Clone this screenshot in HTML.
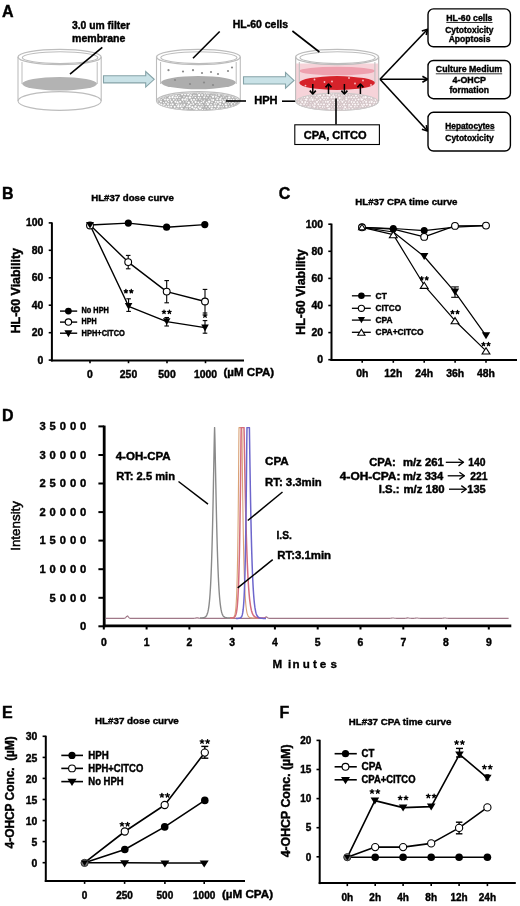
<!DOCTYPE html>
<html><head><meta charset="utf-8"><title>Figure</title>
<style>html,body{margin:0;padding:0;background:#fff;}body{width:520px;height:906px;overflow:hidden;}svg{display:block;will-change:transform;}text{stroke:#000;stroke-width:0.42px;}</style>
</head><body>
<svg width="520" height="906" viewBox="0 0 520 906" font-family="'Liberation Sans', sans-serif" font-weight="bold" fill="#000">
<rect width="520" height="906" fill="#fff"/>
<text x="2.0" y="17.0" font-size="16" >A</text>
<ellipse cx="59.6" cy="101" rx="41.6" ry="9.4" fill="#fff" stroke="#bdbdbd" stroke-width="1.1"/><line x1="18.0" y1="57.0" x2="18.0" y2="101.0" stroke="#bdbdbd" stroke-width="1.1" /><line x1="101.2" y1="57.0" x2="101.2" y2="101.0" stroke="#bdbdbd" stroke-width="1.1" />
<line x1="22.0" y1="62.0" x2="22.0" y2="84.0" stroke="#bdbdbd" stroke-width="1.0" /><line x1="97.2" y1="62.0" x2="97.2" y2="84.0" stroke="#bdbdbd" stroke-width="1.0" />
<ellipse cx="59.6" cy="83.8" rx="37.4" ry="6.8" fill="#b3b3b3"/>
<ellipse cx="59.6" cy="57" rx="41.6" ry="7.7" fill="none" stroke="#bdbdbd" stroke-width="1.3"/><ellipse cx="60.1" cy="57.6" rx="37.800000000000004" ry="5.9" fill="none" stroke="#bdbdbd" stroke-width="1.1"/>
<line x1="102.3" y1="47.4" x2="70.0" y2="74.2" stroke="#000" stroke-width="1.6" />
<text x="72.0" y="28.9" font-size="10.6" textLength="58" lengthAdjust="spacingAndGlyphs" >3.0 um filter</text>
<text x="72.0" y="41.6" font-size="10.8" textLength="53.4" lengthAdjust="spacingAndGlyphs" >membrane</text>
<polygon points="103.5,75.7 145.7,75.7 145.7,71.5 154.2,79.3 145.7,87.1 145.7,82.9 103.5,82.9" fill="#c9e2e7" stroke="#86a3a8" stroke-width="1.1" stroke-linejoin="miter"/>
<polygon points="243.5,76.8 285.5,76.8 285.5,72.6 294.0,80.4 285.5,88.2 285.5,84.0 243.5,84.0" fill="#c9e2e7" stroke="#86a3a8" stroke-width="1.1" stroke-linejoin="miter"/>
<ellipse cx="198.4" cy="101" rx="41.9" ry="9.4" fill="#fff" stroke="#bdbdbd" stroke-width="1.1"/><line x1="156.5" y1="57.0" x2="156.5" y2="101.0" stroke="#bdbdbd" stroke-width="1.1" /><line x1="240.3" y1="57.0" x2="240.3" y2="101.0" stroke="#bdbdbd" stroke-width="1.1" />
<clipPath id="pb2"><ellipse cx="198.4" cy="101.6" rx="41" ry="8.8"/></clipPath><ellipse cx="198.4" cy="101.6" rx="41" ry="8.8" fill="#b4b4b4"/><g clip-path="url(#pb2)"><circle cx="157.5" cy="92.6" r="1.07" fill="#ffffff" stroke="#9c9c9c" stroke-width="0.45"/><circle cx="160.5" cy="92.3" r="1.32" fill="#ffffff" stroke="#9c9c9c" stroke-width="0.45"/><circle cx="163.7" cy="92.5" r="0.91" fill="#ffffff" stroke="#9c9c9c" stroke-width="0.45"/><circle cx="166.9" cy="92.8" r="1.06" fill="#ffffff" stroke="#9c9c9c" stroke-width="0.45"/><circle cx="169.0" cy="93.0" r="1.49" fill="#ffffff" stroke="#9c9c9c" stroke-width="0.45"/><circle cx="172.1" cy="93.2" r="1.01" fill="#ffffff" stroke="#9c9c9c" stroke-width="0.45"/><circle cx="175.2" cy="93.0" r="1.27" fill="#ffffff" stroke="#9c9c9c" stroke-width="0.45"/><circle cx="178.1" cy="92.9" r="0.94" fill="#ffffff" stroke="#9c9c9c" stroke-width="0.45"/><circle cx="179.8" cy="93.2" r="1.11" fill="#ffffff" stroke="#9c9c9c" stroke-width="0.45"/><circle cx="183.9" cy="93.3" r="1.23" fill="#ffffff" stroke="#9c9c9c" stroke-width="0.45"/><circle cx="187.1" cy="92.7" r="1.40" fill="#ffffff" stroke="#9c9c9c" stroke-width="0.45"/><circle cx="189.2" cy="93.3" r="1.46" fill="#ffffff" stroke="#9c9c9c" stroke-width="0.45"/><circle cx="191.6" cy="92.4" r="1.52" fill="#ffffff" stroke="#9c9c9c" stroke-width="0.45"/><circle cx="195.8" cy="92.7" r="1.05" fill="#ffffff" stroke="#9c9c9c" stroke-width="0.45"/><circle cx="197.7" cy="92.8" r="1.34" fill="#ffffff" stroke="#9c9c9c" stroke-width="0.45"/><circle cx="200.7" cy="92.9" r="1.17" fill="#ffffff" stroke="#9c9c9c" stroke-width="0.45"/><circle cx="204.4" cy="93.0" r="1.31" fill="#ffffff" stroke="#9c9c9c" stroke-width="0.45"/><circle cx="207.3" cy="93.4" r="1.55" fill="#ffffff" stroke="#9c9c9c" stroke-width="0.45"/><circle cx="209.1" cy="93.2" r="1.37" fill="#ffffff" stroke="#9c9c9c" stroke-width="0.45"/><circle cx="213.1" cy="92.9" r="1.58" fill="#ffffff" stroke="#9c9c9c" stroke-width="0.45"/><circle cx="214.9" cy="93.2" r="1.40" fill="#ffffff" stroke="#9c9c9c" stroke-width="0.45"/><circle cx="218.0" cy="92.3" r="1.30" fill="#ffffff" stroke="#9c9c9c" stroke-width="0.45"/><circle cx="222.0" cy="92.3" r="1.50" fill="#ffffff" stroke="#9c9c9c" stroke-width="0.45"/><circle cx="224.0" cy="92.4" r="1.46" fill="#ffffff" stroke="#9c9c9c" stroke-width="0.45"/><circle cx="227.4" cy="93.2" r="1.11" fill="#ffffff" stroke="#9c9c9c" stroke-width="0.45"/><circle cx="230.1" cy="92.3" r="0.93" fill="#ffffff" stroke="#9c9c9c" stroke-width="0.45"/><circle cx="232.5" cy="93.3" r="1.40" fill="#ffffff" stroke="#9c9c9c" stroke-width="0.45"/><circle cx="235.7" cy="93.4" r="1.59" fill="#ffffff" stroke="#9c9c9c" stroke-width="0.45"/><circle cx="237.9" cy="92.9" r="1.12" fill="#ffffff" stroke="#9c9c9c" stroke-width="0.45"/><circle cx="158.4" cy="95.0" r="0.92" fill="#ffffff" stroke="#9c9c9c" stroke-width="0.45"/><circle cx="161.2" cy="94.6" r="1.33" fill="#ffffff" stroke="#9c9c9c" stroke-width="0.45"/><circle cx="164.4" cy="95.7" r="1.51" fill="#ffffff" stroke="#9c9c9c" stroke-width="0.45"/><circle cx="167.4" cy="95.1" r="1.53" fill="#ffffff" stroke="#9c9c9c" stroke-width="0.45"/><circle cx="170.7" cy="95.2" r="1.26" fill="#ffffff" stroke="#9c9c9c" stroke-width="0.45"/><circle cx="173.5" cy="95.6" r="1.29" fill="#ffffff" stroke="#9c9c9c" stroke-width="0.45"/><circle cx="176.1" cy="95.4" r="1.25" fill="#ffffff" stroke="#9c9c9c" stroke-width="0.45"/><circle cx="178.8" cy="95.7" r="1.07" fill="#ffffff" stroke="#9c9c9c" stroke-width="0.45"/><circle cx="182.1" cy="94.5" r="1.26" fill="#ffffff" stroke="#9c9c9c" stroke-width="0.45"/><circle cx="185.1" cy="94.5" r="1.19" fill="#ffffff" stroke="#9c9c9c" stroke-width="0.45"/><circle cx="188.1" cy="94.6" r="1.33" fill="#ffffff" stroke="#9c9c9c" stroke-width="0.45"/><circle cx="190.7" cy="95.3" r="1.34" fill="#ffffff" stroke="#9c9c9c" stroke-width="0.45"/><circle cx="194.0" cy="95.4" r="1.15" fill="#ffffff" stroke="#9c9c9c" stroke-width="0.45"/><circle cx="195.8" cy="95.3" r="0.92" fill="#ffffff" stroke="#9c9c9c" stroke-width="0.45"/><circle cx="199.1" cy="95.1" r="1.57" fill="#ffffff" stroke="#9c9c9c" stroke-width="0.45"/><circle cx="202.1" cy="95.0" r="1.31" fill="#ffffff" stroke="#9c9c9c" stroke-width="0.45"/><circle cx="205.0" cy="95.2" r="1.12" fill="#ffffff" stroke="#9c9c9c" stroke-width="0.45"/><circle cx="208.0" cy="95.4" r="1.11" fill="#ffffff" stroke="#9c9c9c" stroke-width="0.45"/><circle cx="211.2" cy="95.4" r="0.92" fill="#ffffff" stroke="#9c9c9c" stroke-width="0.45"/><circle cx="213.5" cy="95.5" r="1.12" fill="#ffffff" stroke="#9c9c9c" stroke-width="0.45"/><circle cx="216.3" cy="95.0" r="1.07" fill="#ffffff" stroke="#9c9c9c" stroke-width="0.45"/><circle cx="219.1" cy="94.9" r="1.39" fill="#ffffff" stroke="#9c9c9c" stroke-width="0.45"/><circle cx="223.2" cy="95.0" r="1.13" fill="#ffffff" stroke="#9c9c9c" stroke-width="0.45"/><circle cx="225.0" cy="94.9" r="1.50" fill="#ffffff" stroke="#9c9c9c" stroke-width="0.45"/><circle cx="229.1" cy="95.1" r="1.36" fill="#ffffff" stroke="#9c9c9c" stroke-width="0.45"/><circle cx="230.7" cy="95.2" r="1.06" fill="#ffffff" stroke="#9c9c9c" stroke-width="0.45"/><circle cx="234.7" cy="95.5" r="1.03" fill="#ffffff" stroke="#9c9c9c" stroke-width="0.45"/><circle cx="236.8" cy="95.5" r="1.03" fill="#ffffff" stroke="#9c9c9c" stroke-width="0.45"/><circle cx="240.5" cy="94.9" r="1.35" fill="#ffffff" stroke="#9c9c9c" stroke-width="0.45"/><circle cx="157.1" cy="97.8" r="0.99" fill="#ffffff" stroke="#9c9c9c" stroke-width="0.45"/><circle cx="160.1" cy="97.3" r="1.09" fill="#ffffff" stroke="#9c9c9c" stroke-width="0.45"/><circle cx="163.1" cy="97.9" r="1.19" fill="#ffffff" stroke="#9c9c9c" stroke-width="0.45"/><circle cx="165.3" cy="98.0" r="1.01" fill="#ffffff" stroke="#9c9c9c" stroke-width="0.45"/><circle cx="169.8" cy="97.4" r="1.52" fill="#ffffff" stroke="#9c9c9c" stroke-width="0.45"/><circle cx="172.6" cy="97.1" r="1.57" fill="#ffffff" stroke="#9c9c9c" stroke-width="0.45"/><circle cx="175.3" cy="97.6" r="1.42" fill="#ffffff" stroke="#9c9c9c" stroke-width="0.45"/><circle cx="177.4" cy="97.2" r="1.26" fill="#ffffff" stroke="#9c9c9c" stroke-width="0.45"/><circle cx="179.9" cy="97.5" r="1.06" fill="#ffffff" stroke="#9c9c9c" stroke-width="0.45"/><circle cx="184.0" cy="96.9" r="1.10" fill="#ffffff" stroke="#9c9c9c" stroke-width="0.45"/><circle cx="186.7" cy="97.9" r="1.53" fill="#ffffff" stroke="#9c9c9c" stroke-width="0.45"/><circle cx="189.9" cy="97.5" r="1.53" fill="#ffffff" stroke="#9c9c9c" stroke-width="0.45"/><circle cx="192.6" cy="97.0" r="0.91" fill="#ffffff" stroke="#9c9c9c" stroke-width="0.45"/><circle cx="195.4" cy="97.5" r="1.11" fill="#ffffff" stroke="#9c9c9c" stroke-width="0.45"/><circle cx="198.7" cy="97.6" r="1.19" fill="#ffffff" stroke="#9c9c9c" stroke-width="0.45"/><circle cx="200.5" cy="97.9" r="1.14" fill="#ffffff" stroke="#9c9c9c" stroke-width="0.45"/><circle cx="204.3" cy="97.3" r="1.23" fill="#ffffff" stroke="#9c9c9c" stroke-width="0.45"/><circle cx="206.8" cy="97.8" r="1.04" fill="#ffffff" stroke="#9c9c9c" stroke-width="0.45"/><circle cx="210.1" cy="97.9" r="1.02" fill="#ffffff" stroke="#9c9c9c" stroke-width="0.45"/><circle cx="213.0" cy="96.8" r="1.46" fill="#ffffff" stroke="#9c9c9c" stroke-width="0.45"/><circle cx="216.0" cy="96.9" r="1.34" fill="#ffffff" stroke="#9c9c9c" stroke-width="0.45"/><circle cx="217.9" cy="97.5" r="1.09" fill="#ffffff" stroke="#9c9c9c" stroke-width="0.45"/><circle cx="221.2" cy="97.8" r="1.20" fill="#ffffff" stroke="#9c9c9c" stroke-width="0.45"/><circle cx="223.4" cy="97.0" r="0.90" fill="#ffffff" stroke="#9c9c9c" stroke-width="0.45"/><circle cx="226.3" cy="98.0" r="0.99" fill="#ffffff" stroke="#9c9c9c" stroke-width="0.45"/><circle cx="229.2" cy="97.4" r="1.50" fill="#ffffff" stroke="#9c9c9c" stroke-width="0.45"/><circle cx="232.5" cy="97.3" r="1.12" fill="#ffffff" stroke="#9c9c9c" stroke-width="0.45"/><circle cx="235.8" cy="97.3" r="1.35" fill="#ffffff" stroke="#9c9c9c" stroke-width="0.45"/><circle cx="238.3" cy="97.0" r="1.03" fill="#ffffff" stroke="#9c9c9c" stroke-width="0.45"/><circle cx="159.2" cy="99.6" r="1.29" fill="#ffffff" stroke="#9c9c9c" stroke-width="0.45"/><circle cx="161.2" cy="99.6" r="0.96" fill="#ffffff" stroke="#9c9c9c" stroke-width="0.45"/><circle cx="165.1" cy="99.6" r="1.32" fill="#ffffff" stroke="#9c9c9c" stroke-width="0.45"/><circle cx="167.7" cy="99.7" r="1.46" fill="#ffffff" stroke="#9c9c9c" stroke-width="0.45"/><circle cx="170.4" cy="100.0" r="1.16" fill="#ffffff" stroke="#9c9c9c" stroke-width="0.45"/><circle cx="173.7" cy="99.7" r="1.19" fill="#ffffff" stroke="#9c9c9c" stroke-width="0.45"/><circle cx="176.3" cy="100.0" r="1.07" fill="#ffffff" stroke="#9c9c9c" stroke-width="0.45"/><circle cx="179.0" cy="99.7" r="0.95" fill="#ffffff" stroke="#9c9c9c" stroke-width="0.45"/><circle cx="182.7" cy="99.6" r="1.52" fill="#ffffff" stroke="#9c9c9c" stroke-width="0.45"/><circle cx="185.4" cy="99.5" r="1.53" fill="#ffffff" stroke="#9c9c9c" stroke-width="0.45"/><circle cx="187.2" cy="100.1" r="1.22" fill="#ffffff" stroke="#9c9c9c" stroke-width="0.45"/><circle cx="191.4" cy="100.1" r="1.36" fill="#ffffff" stroke="#9c9c9c" stroke-width="0.45"/><circle cx="194.0" cy="99.8" r="1.37" fill="#ffffff" stroke="#9c9c9c" stroke-width="0.45"/><circle cx="196.7" cy="99.2" r="0.97" fill="#ffffff" stroke="#9c9c9c" stroke-width="0.45"/><circle cx="199.9" cy="99.2" r="1.00" fill="#ffffff" stroke="#9c9c9c" stroke-width="0.45"/><circle cx="201.7" cy="100.2" r="0.96" fill="#ffffff" stroke="#9c9c9c" stroke-width="0.45"/><circle cx="204.5" cy="100.2" r="1.03" fill="#ffffff" stroke="#9c9c9c" stroke-width="0.45"/><circle cx="208.7" cy="100.0" r="0.98" fill="#ffffff" stroke="#9c9c9c" stroke-width="0.45"/><circle cx="211.8" cy="99.9" r="1.49" fill="#ffffff" stroke="#9c9c9c" stroke-width="0.45"/><circle cx="213.2" cy="100.1" r="1.46" fill="#ffffff" stroke="#9c9c9c" stroke-width="0.45"/><circle cx="217.2" cy="99.3" r="1.26" fill="#ffffff" stroke="#9c9c9c" stroke-width="0.45"/><circle cx="220.4" cy="99.2" r="1.42" fill="#ffffff" stroke="#9c9c9c" stroke-width="0.45"/><circle cx="222.8" cy="100.2" r="1.13" fill="#ffffff" stroke="#9c9c9c" stroke-width="0.45"/><circle cx="225.0" cy="99.5" r="1.07" fill="#ffffff" stroke="#9c9c9c" stroke-width="0.45"/><circle cx="228.9" cy="99.6" r="1.33" fill="#ffffff" stroke="#9c9c9c" stroke-width="0.45"/><circle cx="231.2" cy="99.6" r="1.16" fill="#ffffff" stroke="#9c9c9c" stroke-width="0.45"/><circle cx="233.6" cy="99.8" r="1.19" fill="#ffffff" stroke="#9c9c9c" stroke-width="0.45"/><circle cx="237.0" cy="100.1" r="1.58" fill="#ffffff" stroke="#9c9c9c" stroke-width="0.45"/><circle cx="240.4" cy="100.1" r="1.01" fill="#ffffff" stroke="#9c9c9c" stroke-width="0.45"/><circle cx="157.4" cy="102.1" r="1.37" fill="#ffffff" stroke="#9c9c9c" stroke-width="0.45"/><circle cx="160.9" cy="101.7" r="1.35" fill="#ffffff" stroke="#9c9c9c" stroke-width="0.45"/><circle cx="163.6" cy="102.6" r="0.97" fill="#ffffff" stroke="#9c9c9c" stroke-width="0.45"/><circle cx="166.0" cy="102.3" r="1.26" fill="#ffffff" stroke="#9c9c9c" stroke-width="0.45"/><circle cx="168.6" cy="101.7" r="1.03" fill="#ffffff" stroke="#9c9c9c" stroke-width="0.45"/><circle cx="171.6" cy="101.8" r="1.31" fill="#ffffff" stroke="#9c9c9c" stroke-width="0.45"/><circle cx="175.5" cy="101.8" r="1.38" fill="#ffffff" stroke="#9c9c9c" stroke-width="0.45"/><circle cx="177.6" cy="102.5" r="1.39" fill="#ffffff" stroke="#9c9c9c" stroke-width="0.45"/><circle cx="180.2" cy="101.7" r="1.31" fill="#ffffff" stroke="#9c9c9c" stroke-width="0.45"/><circle cx="183.5" cy="101.9" r="0.92" fill="#ffffff" stroke="#9c9c9c" stroke-width="0.45"/><circle cx="186.2" cy="101.9" r="1.02" fill="#ffffff" stroke="#9c9c9c" stroke-width="0.45"/><circle cx="188.7" cy="102.7" r="1.44" fill="#ffffff" stroke="#9c9c9c" stroke-width="0.45"/><circle cx="192.4" cy="102.0" r="1.24" fill="#ffffff" stroke="#9c9c9c" stroke-width="0.45"/><circle cx="195.6" cy="102.1" r="1.48" fill="#ffffff" stroke="#9c9c9c" stroke-width="0.45"/><circle cx="198.4" cy="102.5" r="1.24" fill="#ffffff" stroke="#9c9c9c" stroke-width="0.45"/><circle cx="201.3" cy="102.6" r="1.18" fill="#ffffff" stroke="#9c9c9c" stroke-width="0.45"/><circle cx="203.4" cy="101.8" r="1.23" fill="#ffffff" stroke="#9c9c9c" stroke-width="0.45"/><circle cx="207.0" cy="102.6" r="1.40" fill="#ffffff" stroke="#9c9c9c" stroke-width="0.45"/><circle cx="209.2" cy="101.7" r="1.50" fill="#ffffff" stroke="#9c9c9c" stroke-width="0.45"/><circle cx="212.0" cy="102.3" r="1.08" fill="#ffffff" stroke="#9c9c9c" stroke-width="0.45"/><circle cx="216.0" cy="101.8" r="1.50" fill="#ffffff" stroke="#9c9c9c" stroke-width="0.45"/><circle cx="218.0" cy="102.0" r="1.51" fill="#ffffff" stroke="#9c9c9c" stroke-width="0.45"/><circle cx="220.5" cy="101.6" r="1.41" fill="#ffffff" stroke="#9c9c9c" stroke-width="0.45"/><circle cx="223.8" cy="101.9" r="1.48" fill="#ffffff" stroke="#9c9c9c" stroke-width="0.45"/><circle cx="227.3" cy="101.5" r="1.31" fill="#ffffff" stroke="#9c9c9c" stroke-width="0.45"/><circle cx="229.8" cy="102.1" r="1.13" fill="#ffffff" stroke="#9c9c9c" stroke-width="0.45"/><circle cx="232.9" cy="102.6" r="1.05" fill="#ffffff" stroke="#9c9c9c" stroke-width="0.45"/><circle cx="235.8" cy="101.6" r="1.17" fill="#ffffff" stroke="#9c9c9c" stroke-width="0.45"/><circle cx="238.9" cy="101.6" r="1.09" fill="#ffffff" stroke="#9c9c9c" stroke-width="0.45"/><circle cx="159.5" cy="103.9" r="1.52" fill="#ffffff" stroke="#9c9c9c" stroke-width="0.45"/><circle cx="161.5" cy="104.7" r="1.56" fill="#ffffff" stroke="#9c9c9c" stroke-width="0.45"/><circle cx="164.3" cy="104.6" r="1.43" fill="#ffffff" stroke="#9c9c9c" stroke-width="0.45"/><circle cx="168.0" cy="104.1" r="1.36" fill="#ffffff" stroke="#9c9c9c" stroke-width="0.45"/><circle cx="171.2" cy="104.6" r="1.43" fill="#ffffff" stroke="#9c9c9c" stroke-width="0.45"/><circle cx="172.7" cy="104.4" r="1.28" fill="#ffffff" stroke="#9c9c9c" stroke-width="0.45"/><circle cx="176.6" cy="104.6" r="1.15" fill="#ffffff" stroke="#9c9c9c" stroke-width="0.45"/><circle cx="178.6" cy="104.6" r="1.30" fill="#ffffff" stroke="#9c9c9c" stroke-width="0.45"/><circle cx="181.5" cy="104.9" r="1.34" fill="#ffffff" stroke="#9c9c9c" stroke-width="0.45"/><circle cx="184.3" cy="104.9" r="1.36" fill="#ffffff" stroke="#9c9c9c" stroke-width="0.45"/><circle cx="187.6" cy="104.7" r="1.00" fill="#ffffff" stroke="#9c9c9c" stroke-width="0.45"/><circle cx="190.8" cy="104.6" r="1.32" fill="#ffffff" stroke="#9c9c9c" stroke-width="0.45"/><circle cx="193.3" cy="104.0" r="1.22" fill="#ffffff" stroke="#9c9c9c" stroke-width="0.45"/><circle cx="196.9" cy="104.7" r="0.95" fill="#ffffff" stroke="#9c9c9c" stroke-width="0.45"/><circle cx="199.8" cy="104.2" r="1.28" fill="#ffffff" stroke="#9c9c9c" stroke-width="0.45"/><circle cx="202.2" cy="104.8" r="1.09" fill="#ffffff" stroke="#9c9c9c" stroke-width="0.45"/><circle cx="205.3" cy="104.1" r="0.93" fill="#ffffff" stroke="#9c9c9c" stroke-width="0.45"/><circle cx="207.9" cy="104.2" r="1.44" fill="#ffffff" stroke="#9c9c9c" stroke-width="0.45"/><circle cx="211.1" cy="104.7" r="1.18" fill="#ffffff" stroke="#9c9c9c" stroke-width="0.45"/><circle cx="214.5" cy="103.9" r="1.15" fill="#ffffff" stroke="#9c9c9c" stroke-width="0.45"/><circle cx="216.2" cy="103.9" r="1.09" fill="#ffffff" stroke="#9c9c9c" stroke-width="0.45"/><circle cx="220.1" cy="104.0" r="1.45" fill="#ffffff" stroke="#9c9c9c" stroke-width="0.45"/><circle cx="222.5" cy="104.7" r="1.03" fill="#ffffff" stroke="#9c9c9c" stroke-width="0.45"/><circle cx="225.9" cy="104.5" r="1.47" fill="#ffffff" stroke="#9c9c9c" stroke-width="0.45"/><circle cx="228.3" cy="104.0" r="1.00" fill="#ffffff" stroke="#9c9c9c" stroke-width="0.45"/><circle cx="231.5" cy="104.0" r="1.27" fill="#ffffff" stroke="#9c9c9c" stroke-width="0.45"/><circle cx="234.7" cy="103.8" r="1.08" fill="#ffffff" stroke="#9c9c9c" stroke-width="0.45"/><circle cx="237.8" cy="104.9" r="1.46" fill="#ffffff" stroke="#9c9c9c" stroke-width="0.45"/><circle cx="240.1" cy="104.5" r="1.17" fill="#ffffff" stroke="#9c9c9c" stroke-width="0.45"/><circle cx="158.2" cy="106.9" r="1.34" fill="#ffffff" stroke="#9c9c9c" stroke-width="0.45"/><circle cx="160.9" cy="106.7" r="1.11" fill="#ffffff" stroke="#9c9c9c" stroke-width="0.45"/><circle cx="163.6" cy="106.1" r="1.32" fill="#ffffff" stroke="#9c9c9c" stroke-width="0.45"/><circle cx="166.4" cy="106.7" r="1.44" fill="#ffffff" stroke="#9c9c9c" stroke-width="0.45"/><circle cx="168.9" cy="106.4" r="1.27" fill="#ffffff" stroke="#9c9c9c" stroke-width="0.45"/><circle cx="171.2" cy="106.7" r="1.27" fill="#ffffff" stroke="#9c9c9c" stroke-width="0.45"/><circle cx="174.7" cy="106.8" r="1.35" fill="#ffffff" stroke="#9c9c9c" stroke-width="0.45"/><circle cx="178.3" cy="106.3" r="1.57" fill="#ffffff" stroke="#9c9c9c" stroke-width="0.45"/><circle cx="180.8" cy="106.2" r="1.45" fill="#ffffff" stroke="#9c9c9c" stroke-width="0.45"/><circle cx="183.1" cy="106.2" r="1.15" fill="#ffffff" stroke="#9c9c9c" stroke-width="0.45"/><circle cx="187.1" cy="106.5" r="1.28" fill="#ffffff" stroke="#9c9c9c" stroke-width="0.45"/><circle cx="189.6" cy="106.3" r="1.51" fill="#ffffff" stroke="#9c9c9c" stroke-width="0.45"/><circle cx="192.4" cy="107.2" r="1.50" fill="#ffffff" stroke="#9c9c9c" stroke-width="0.45"/><circle cx="195.5" cy="106.5" r="1.40" fill="#ffffff" stroke="#9c9c9c" stroke-width="0.45"/><circle cx="198.7" cy="107.2" r="1.46" fill="#ffffff" stroke="#9c9c9c" stroke-width="0.45"/><circle cx="201.3" cy="106.7" r="1.21" fill="#ffffff" stroke="#9c9c9c" stroke-width="0.45"/><circle cx="203.1" cy="106.2" r="0.98" fill="#ffffff" stroke="#9c9c9c" stroke-width="0.45"/><circle cx="206.2" cy="106.7" r="1.04" fill="#ffffff" stroke="#9c9c9c" stroke-width="0.45"/><circle cx="209.7" cy="106.6" r="1.39" fill="#ffffff" stroke="#9c9c9c" stroke-width="0.45"/><circle cx="212.2" cy="106.7" r="1.35" fill="#ffffff" stroke="#9c9c9c" stroke-width="0.45"/><circle cx="215.2" cy="106.3" r="1.43" fill="#ffffff" stroke="#9c9c9c" stroke-width="0.45"/><circle cx="218.7" cy="106.6" r="1.53" fill="#ffffff" stroke="#9c9c9c" stroke-width="0.45"/><circle cx="221.2" cy="106.8" r="1.16" fill="#ffffff" stroke="#9c9c9c" stroke-width="0.45"/><circle cx="223.3" cy="106.4" r="1.06" fill="#ffffff" stroke="#9c9c9c" stroke-width="0.45"/><circle cx="226.4" cy="106.7" r="1.45" fill="#ffffff" stroke="#9c9c9c" stroke-width="0.45"/><circle cx="229.4" cy="106.3" r="1.04" fill="#ffffff" stroke="#9c9c9c" stroke-width="0.45"/><circle cx="232.3" cy="106.2" r="1.18" fill="#ffffff" stroke="#9c9c9c" stroke-width="0.45"/><circle cx="235.2" cy="106.7" r="0.98" fill="#ffffff" stroke="#9c9c9c" stroke-width="0.45"/><circle cx="237.8" cy="106.7" r="0.94" fill="#ffffff" stroke="#9c9c9c" stroke-width="0.45"/><circle cx="159.2" cy="108.5" r="1.19" fill="#ffffff" stroke="#9c9c9c" stroke-width="0.45"/><circle cx="161.6" cy="108.5" r="1.18" fill="#ffffff" stroke="#9c9c9c" stroke-width="0.45"/><circle cx="164.2" cy="108.6" r="1.58" fill="#ffffff" stroke="#9c9c9c" stroke-width="0.45"/><circle cx="167.0" cy="109.2" r="1.23" fill="#ffffff" stroke="#9c9c9c" stroke-width="0.45"/><circle cx="169.8" cy="108.5" r="1.14" fill="#ffffff" stroke="#9c9c9c" stroke-width="0.45"/><circle cx="173.0" cy="109.4" r="1.41" fill="#ffffff" stroke="#9c9c9c" stroke-width="0.45"/><circle cx="176.9" cy="108.8" r="1.23" fill="#ffffff" stroke="#9c9c9c" stroke-width="0.45"/><circle cx="178.8" cy="109.4" r="1.07" fill="#ffffff" stroke="#9c9c9c" stroke-width="0.45"/><circle cx="181.8" cy="108.6" r="1.34" fill="#ffffff" stroke="#9c9c9c" stroke-width="0.45"/><circle cx="185.7" cy="109.2" r="1.38" fill="#ffffff" stroke="#9c9c9c" stroke-width="0.45"/><circle cx="187.1" cy="108.5" r="0.90" fill="#ffffff" stroke="#9c9c9c" stroke-width="0.45"/><circle cx="190.0" cy="108.5" r="1.02" fill="#ffffff" stroke="#9c9c9c" stroke-width="0.45"/><circle cx="194.3" cy="108.7" r="1.36" fill="#ffffff" stroke="#9c9c9c" stroke-width="0.45"/><circle cx="196.5" cy="109.4" r="1.58" fill="#ffffff" stroke="#9c9c9c" stroke-width="0.45"/><circle cx="200.2" cy="108.5" r="1.54" fill="#ffffff" stroke="#9c9c9c" stroke-width="0.45"/><circle cx="202.5" cy="109.6" r="1.11" fill="#ffffff" stroke="#9c9c9c" stroke-width="0.45"/><circle cx="204.9" cy="109.5" r="0.96" fill="#ffffff" stroke="#9c9c9c" stroke-width="0.45"/><circle cx="208.0" cy="108.8" r="0.98" fill="#ffffff" stroke="#9c9c9c" stroke-width="0.45"/><circle cx="211.7" cy="108.6" r="1.38" fill="#ffffff" stroke="#9c9c9c" stroke-width="0.45"/><circle cx="214.3" cy="109.4" r="1.42" fill="#ffffff" stroke="#9c9c9c" stroke-width="0.45"/><circle cx="217.5" cy="108.9" r="1.29" fill="#ffffff" stroke="#9c9c9c" stroke-width="0.45"/><circle cx="219.3" cy="109.4" r="1.19" fill="#ffffff" stroke="#9c9c9c" stroke-width="0.45"/><circle cx="222.3" cy="108.6" r="1.24" fill="#ffffff" stroke="#9c9c9c" stroke-width="0.45"/><circle cx="225.7" cy="109.3" r="1.40" fill="#ffffff" stroke="#9c9c9c" stroke-width="0.45"/><circle cx="228.4" cy="108.6" r="1.17" fill="#ffffff" stroke="#9c9c9c" stroke-width="0.45"/><circle cx="230.6" cy="109.0" r="1.40" fill="#ffffff" stroke="#9c9c9c" stroke-width="0.45"/><circle cx="234.5" cy="108.6" r="1.43" fill="#ffffff" stroke="#9c9c9c" stroke-width="0.45"/><circle cx="237.7" cy="109.2" r="1.07" fill="#ffffff" stroke="#9c9c9c" stroke-width="0.45"/><circle cx="240.6" cy="109.0" r="1.51" fill="#ffffff" stroke="#9c9c9c" stroke-width="0.45"/><circle cx="157.8" cy="111.2" r="1.53" fill="#ffffff" stroke="#9c9c9c" stroke-width="0.45"/><circle cx="159.6" cy="111.2" r="1.16" fill="#ffffff" stroke="#9c9c9c" stroke-width="0.45"/><circle cx="162.6" cy="111.4" r="1.57" fill="#ffffff" stroke="#9c9c9c" stroke-width="0.45"/><circle cx="165.4" cy="111.5" r="0.98" fill="#ffffff" stroke="#9c9c9c" stroke-width="0.45"/><circle cx="168.3" cy="110.9" r="1.07" fill="#ffffff" stroke="#9c9c9c" stroke-width="0.45"/><circle cx="172.0" cy="110.8" r="1.35" fill="#ffffff" stroke="#9c9c9c" stroke-width="0.45"/><circle cx="175.5" cy="111.0" r="1.06" fill="#ffffff" stroke="#9c9c9c" stroke-width="0.45"/><circle cx="177.6" cy="111.7" r="1.29" fill="#ffffff" stroke="#9c9c9c" stroke-width="0.45"/><circle cx="181.1" cy="111.4" r="1.32" fill="#ffffff" stroke="#9c9c9c" stroke-width="0.45"/><circle cx="183.0" cy="110.9" r="1.03" fill="#ffffff" stroke="#9c9c9c" stroke-width="0.45"/><circle cx="185.8" cy="110.8" r="1.48" fill="#ffffff" stroke="#9c9c9c" stroke-width="0.45"/><circle cx="188.8" cy="111.8" r="1.58" fill="#ffffff" stroke="#9c9c9c" stroke-width="0.45"/><circle cx="192.1" cy="111.0" r="0.96" fill="#ffffff" stroke="#9c9c9c" stroke-width="0.45"/><circle cx="195.3" cy="111.5" r="1.48" fill="#ffffff" stroke="#9c9c9c" stroke-width="0.45"/><circle cx="198.6" cy="111.2" r="1.43" fill="#ffffff" stroke="#9c9c9c" stroke-width="0.45"/><circle cx="200.8" cy="110.9" r="1.32" fill="#ffffff" stroke="#9c9c9c" stroke-width="0.45"/><circle cx="204.0" cy="111.7" r="1.48" fill="#ffffff" stroke="#9c9c9c" stroke-width="0.45"/><circle cx="206.8" cy="111.3" r="1.04" fill="#ffffff" stroke="#9c9c9c" stroke-width="0.45"/><circle cx="208.9" cy="111.2" r="1.41" fill="#ffffff" stroke="#9c9c9c" stroke-width="0.45"/><circle cx="211.8" cy="111.4" r="1.24" fill="#ffffff" stroke="#9c9c9c" stroke-width="0.45"/><circle cx="215.3" cy="111.5" r="1.41" fill="#ffffff" stroke="#9c9c9c" stroke-width="0.45"/><circle cx="217.8" cy="111.2" r="1.32" fill="#ffffff" stroke="#9c9c9c" stroke-width="0.45"/><circle cx="220.9" cy="111.3" r="1.60" fill="#ffffff" stroke="#9c9c9c" stroke-width="0.45"/><circle cx="223.6" cy="111.0" r="0.96" fill="#ffffff" stroke="#9c9c9c" stroke-width="0.45"/><circle cx="227.4" cy="111.8" r="1.55" fill="#ffffff" stroke="#9c9c9c" stroke-width="0.45"/><circle cx="230.1" cy="111.9" r="1.59" fill="#ffffff" stroke="#9c9c9c" stroke-width="0.45"/><circle cx="232.7" cy="111.9" r="1.28" fill="#ffffff" stroke="#9c9c9c" stroke-width="0.45"/><circle cx="236.4" cy="111.3" r="1.53" fill="#ffffff" stroke="#9c9c9c" stroke-width="0.45"/><circle cx="238.5" cy="112.0" r="1.44" fill="#ffffff" stroke="#9c9c9c" stroke-width="0.45"/></g><ellipse cx="198.4" cy="101.6" rx="41" ry="8.8" fill="none" stroke="#c8c8c8" stroke-width="0.8"/>
<line x1="160.6" y1="62.0" x2="160.6" y2="84.0" stroke="#bdbdbd" stroke-width="1.0" /><line x1="236.2" y1="62.0" x2="236.2" y2="84.0" stroke="#bdbdbd" stroke-width="1.0" />
<ellipse cx="198.4" cy="82.6" rx="37.4" ry="6.6" fill="#adadad"/>
<circle cx="168.5" cy="70.2" r="1.1" fill="#8a8a8a"/>
<circle cx="183" cy="71.5" r="1.1" fill="#8a8a8a"/>
<circle cx="193" cy="70.2" r="1.1" fill="#8a8a8a"/>
<circle cx="202" cy="73" r="1.1" fill="#8a8a8a"/>
<circle cx="211" cy="72" r="1.1" fill="#8a8a8a"/>
<circle cx="218" cy="74" r="1.1" fill="#8a8a8a"/>
<circle cx="228" cy="71" r="1.1" fill="#8a8a8a"/>
<circle cx="232" cy="67.5" r="1.1" fill="#8a8a8a"/>
<circle cx="175" cy="80" r="1.1" fill="#8a8a8a"/>
<circle cx="190" cy="84" r="1.1" fill="#8a8a8a"/>
<circle cx="204" cy="82.5" r="1.1" fill="#8a8a8a"/>
<circle cx="213" cy="85" r="1.1" fill="#8a8a8a"/>
<ellipse cx="198.4" cy="57" rx="41.9" ry="7.7" fill="none" stroke="#bdbdbd" stroke-width="1.3"/><ellipse cx="198.9" cy="57.6" rx="38.1" ry="5.9" fill="none" stroke="#bdbdbd" stroke-width="1.1"/>
<line x1="219.7" y1="31.5" x2="193.0" y2="58.2" stroke="#000" stroke-width="1.6" />
<text x="232.7" y="28.3" font-size="10.6" textLength="55.4" lengthAdjust="spacingAndGlyphs" >HL-60 cells</text>
<line x1="226.0" y1="101.0" x2="246.0" y2="101.0" stroke="#000" stroke-width="1.6" />
<line x1="282.0" y1="101.2" x2="301.0" y2="101.2" stroke="#000" stroke-width="1.6" />
<text x="254.2" y="104.4" font-size="10.8" textLength="23.4" lengthAdjust="spacingAndGlyphs" >HPH</text>
<ellipse cx="337.1" cy="101" rx="41.5" ry="9.4" fill="#fff" stroke="#bdbdbd" stroke-width="1.1"/><line x1="295.6" y1="57.0" x2="295.6" y2="101.0" stroke="#bdbdbd" stroke-width="1.1" /><line x1="378.6" y1="57.0" x2="378.6" y2="101.0" stroke="#bdbdbd" stroke-width="1.1" />
<path d="M295.6,63.5 L378.6,63.5 L378.6,101 A41.5,9.4 0 0 1 295.6,101 Z" fill="#f6d3d9"/>
<clipPath id="pb3"><ellipse cx="337.1" cy="101.6" rx="40.8" ry="8.6"/></clipPath><ellipse cx="337.1" cy="101.6" rx="40.8" ry="8.6" fill="#dccdd0"/><g clip-path="url(#pb3)"><circle cx="296.0" cy="93.5" r="1.54" fill="#fdf8f9" stroke="#c2b0b4" stroke-width="0.45"/><circle cx="298.6" cy="93.3" r="1.03" fill="#fdf8f9" stroke="#c2b0b4" stroke-width="0.45"/><circle cx="302.1" cy="93.2" r="1.11" fill="#fdf8f9" stroke="#c2b0b4" stroke-width="0.45"/><circle cx="305.4" cy="92.7" r="0.93" fill="#fdf8f9" stroke="#c2b0b4" stroke-width="0.45"/><circle cx="307.7" cy="93.3" r="1.20" fill="#fdf8f9" stroke="#c2b0b4" stroke-width="0.45"/><circle cx="310.5" cy="92.5" r="1.42" fill="#fdf8f9" stroke="#c2b0b4" stroke-width="0.45"/><circle cx="313.6" cy="92.5" r="1.11" fill="#fdf8f9" stroke="#c2b0b4" stroke-width="0.45"/><circle cx="317.0" cy="93.2" r="1.01" fill="#fdf8f9" stroke="#c2b0b4" stroke-width="0.45"/><circle cx="320.3" cy="93.5" r="1.58" fill="#fdf8f9" stroke="#c2b0b4" stroke-width="0.45"/><circle cx="321.9" cy="92.8" r="1.16" fill="#fdf8f9" stroke="#c2b0b4" stroke-width="0.45"/><circle cx="325.3" cy="93.1" r="1.22" fill="#fdf8f9" stroke="#c2b0b4" stroke-width="0.45"/><circle cx="328.8" cy="92.7" r="1.15" fill="#fdf8f9" stroke="#c2b0b4" stroke-width="0.45"/><circle cx="331.7" cy="93.4" r="1.22" fill="#fdf8f9" stroke="#c2b0b4" stroke-width="0.45"/><circle cx="333.6" cy="93.4" r="1.11" fill="#fdf8f9" stroke="#c2b0b4" stroke-width="0.45"/><circle cx="336.3" cy="93.0" r="0.91" fill="#fdf8f9" stroke="#c2b0b4" stroke-width="0.45"/><circle cx="339.3" cy="92.5" r="1.28" fill="#fdf8f9" stroke="#c2b0b4" stroke-width="0.45"/><circle cx="343.1" cy="93.0" r="1.04" fill="#fdf8f9" stroke="#c2b0b4" stroke-width="0.45"/><circle cx="346.1" cy="93.6" r="1.59" fill="#fdf8f9" stroke="#c2b0b4" stroke-width="0.45"/><circle cx="348.0" cy="92.4" r="0.92" fill="#fdf8f9" stroke="#c2b0b4" stroke-width="0.45"/><circle cx="351.1" cy="92.5" r="1.20" fill="#fdf8f9" stroke="#c2b0b4" stroke-width="0.45"/><circle cx="353.7" cy="92.8" r="1.28" fill="#fdf8f9" stroke="#c2b0b4" stroke-width="0.45"/><circle cx="357.7" cy="92.9" r="1.07" fill="#fdf8f9" stroke="#c2b0b4" stroke-width="0.45"/><circle cx="359.4" cy="92.9" r="1.08" fill="#fdf8f9" stroke="#c2b0b4" stroke-width="0.45"/><circle cx="363.3" cy="93.5" r="1.34" fill="#fdf8f9" stroke="#c2b0b4" stroke-width="0.45"/><circle cx="365.5" cy="92.6" r="1.47" fill="#fdf8f9" stroke="#c2b0b4" stroke-width="0.45"/><circle cx="369.3" cy="93.0" r="1.43" fill="#fdf8f9" stroke="#c2b0b4" stroke-width="0.45"/><circle cx="371.8" cy="92.7" r="1.48" fill="#fdf8f9" stroke="#c2b0b4" stroke-width="0.45"/><circle cx="373.8" cy="93.2" r="1.02" fill="#fdf8f9" stroke="#c2b0b4" stroke-width="0.45"/><circle cx="378.1" cy="93.0" r="1.53" fill="#fdf8f9" stroke="#c2b0b4" stroke-width="0.45"/><circle cx="298.4" cy="95.7" r="1.37" fill="#fdf8f9" stroke="#c2b0b4" stroke-width="0.45"/><circle cx="300.5" cy="95.3" r="1.32" fill="#fdf8f9" stroke="#c2b0b4" stroke-width="0.45"/><circle cx="303.0" cy="95.5" r="1.02" fill="#fdf8f9" stroke="#c2b0b4" stroke-width="0.45"/><circle cx="306.5" cy="95.2" r="1.59" fill="#fdf8f9" stroke="#c2b0b4" stroke-width="0.45"/><circle cx="309.3" cy="95.7" r="1.15" fill="#fdf8f9" stroke="#c2b0b4" stroke-width="0.45"/><circle cx="313.0" cy="94.9" r="1.22" fill="#fdf8f9" stroke="#c2b0b4" stroke-width="0.45"/><circle cx="315.2" cy="95.2" r="1.12" fill="#fdf8f9" stroke="#c2b0b4" stroke-width="0.45"/><circle cx="318.6" cy="95.8" r="1.50" fill="#fdf8f9" stroke="#c2b0b4" stroke-width="0.45"/><circle cx="320.2" cy="95.4" r="1.33" fill="#fdf8f9" stroke="#c2b0b4" stroke-width="0.45"/><circle cx="323.8" cy="95.1" r="1.28" fill="#fdf8f9" stroke="#c2b0b4" stroke-width="0.45"/><circle cx="327.4" cy="94.8" r="1.40" fill="#fdf8f9" stroke="#c2b0b4" stroke-width="0.45"/><circle cx="329.4" cy="95.3" r="1.37" fill="#fdf8f9" stroke="#c2b0b4" stroke-width="0.45"/><circle cx="333.3" cy="95.5" r="1.53" fill="#fdf8f9" stroke="#c2b0b4" stroke-width="0.45"/><circle cx="336.1" cy="94.9" r="1.04" fill="#fdf8f9" stroke="#c2b0b4" stroke-width="0.45"/><circle cx="338.9" cy="95.1" r="1.17" fill="#fdf8f9" stroke="#c2b0b4" stroke-width="0.45"/><circle cx="342.0" cy="95.9" r="1.09" fill="#fdf8f9" stroke="#c2b0b4" stroke-width="0.45"/><circle cx="344.0" cy="95.1" r="1.12" fill="#fdf8f9" stroke="#c2b0b4" stroke-width="0.45"/><circle cx="346.7" cy="95.9" r="0.99" fill="#fdf8f9" stroke="#c2b0b4" stroke-width="0.45"/><circle cx="349.5" cy="95.0" r="0.96" fill="#fdf8f9" stroke="#c2b0b4" stroke-width="0.45"/><circle cx="352.9" cy="95.6" r="0.96" fill="#fdf8f9" stroke="#c2b0b4" stroke-width="0.45"/><circle cx="356.0" cy="95.7" r="1.49" fill="#fdf8f9" stroke="#c2b0b4" stroke-width="0.45"/><circle cx="358.3" cy="95.9" r="0.90" fill="#fdf8f9" stroke="#c2b0b4" stroke-width="0.45"/><circle cx="361.2" cy="95.3" r="0.95" fill="#fdf8f9" stroke="#c2b0b4" stroke-width="0.45"/><circle cx="364.5" cy="94.8" r="1.09" fill="#fdf8f9" stroke="#c2b0b4" stroke-width="0.45"/><circle cx="368.1" cy="94.9" r="1.07" fill="#fdf8f9" stroke="#c2b0b4" stroke-width="0.45"/><circle cx="369.7" cy="95.9" r="1.53" fill="#fdf8f9" stroke="#c2b0b4" stroke-width="0.45"/><circle cx="373.4" cy="94.9" r="1.37" fill="#fdf8f9" stroke="#c2b0b4" stroke-width="0.45"/><circle cx="376.5" cy="94.9" r="0.94" fill="#fdf8f9" stroke="#c2b0b4" stroke-width="0.45"/><circle cx="379.5" cy="95.8" r="1.03" fill="#fdf8f9" stroke="#c2b0b4" stroke-width="0.45"/><circle cx="297.0" cy="97.7" r="0.93" fill="#fdf8f9" stroke="#c2b0b4" stroke-width="0.45"/><circle cx="298.6" cy="97.5" r="1.17" fill="#fdf8f9" stroke="#c2b0b4" stroke-width="0.45"/><circle cx="301.7" cy="97.2" r="1.59" fill="#fdf8f9" stroke="#c2b0b4" stroke-width="0.45"/><circle cx="304.4" cy="97.5" r="1.00" fill="#fdf8f9" stroke="#c2b0b4" stroke-width="0.45"/><circle cx="307.2" cy="97.3" r="1.54" fill="#fdf8f9" stroke="#c2b0b4" stroke-width="0.45"/><circle cx="311.6" cy="98.2" r="1.56" fill="#fdf8f9" stroke="#c2b0b4" stroke-width="0.45"/><circle cx="313.5" cy="98.2" r="1.07" fill="#fdf8f9" stroke="#c2b0b4" stroke-width="0.45"/><circle cx="316.9" cy="97.4" r="1.24" fill="#fdf8f9" stroke="#c2b0b4" stroke-width="0.45"/><circle cx="319.3" cy="97.9" r="0.91" fill="#fdf8f9" stroke="#c2b0b4" stroke-width="0.45"/><circle cx="322.5" cy="97.6" r="1.45" fill="#fdf8f9" stroke="#c2b0b4" stroke-width="0.45"/><circle cx="325.2" cy="97.7" r="1.28" fill="#fdf8f9" stroke="#c2b0b4" stroke-width="0.45"/><circle cx="327.7" cy="97.8" r="1.48" fill="#fdf8f9" stroke="#c2b0b4" stroke-width="0.45"/><circle cx="331.7" cy="97.3" r="1.55" fill="#fdf8f9" stroke="#c2b0b4" stroke-width="0.45"/><circle cx="334.5" cy="97.2" r="1.57" fill="#fdf8f9" stroke="#c2b0b4" stroke-width="0.45"/><circle cx="336.4" cy="97.1" r="1.09" fill="#fdf8f9" stroke="#c2b0b4" stroke-width="0.45"/><circle cx="339.7" cy="98.1" r="1.58" fill="#fdf8f9" stroke="#c2b0b4" stroke-width="0.45"/><circle cx="341.9" cy="98.1" r="0.98" fill="#fdf8f9" stroke="#c2b0b4" stroke-width="0.45"/><circle cx="346.4" cy="97.9" r="1.46" fill="#fdf8f9" stroke="#c2b0b4" stroke-width="0.45"/><circle cx="348.9" cy="97.2" r="1.27" fill="#fdf8f9" stroke="#c2b0b4" stroke-width="0.45"/><circle cx="351.3" cy="97.2" r="1.28" fill="#fdf8f9" stroke="#c2b0b4" stroke-width="0.45"/><circle cx="354.0" cy="97.6" r="1.32" fill="#fdf8f9" stroke="#c2b0b4" stroke-width="0.45"/><circle cx="356.9" cy="97.5" r="1.16" fill="#fdf8f9" stroke="#c2b0b4" stroke-width="0.45"/><circle cx="360.9" cy="98.2" r="1.32" fill="#fdf8f9" stroke="#c2b0b4" stroke-width="0.45"/><circle cx="363.5" cy="97.4" r="1.50" fill="#fdf8f9" stroke="#c2b0b4" stroke-width="0.45"/><circle cx="365.5" cy="97.2" r="1.58" fill="#fdf8f9" stroke="#c2b0b4" stroke-width="0.45"/><circle cx="369.2" cy="97.4" r="1.25" fill="#fdf8f9" stroke="#c2b0b4" stroke-width="0.45"/><circle cx="371.4" cy="98.2" r="1.35" fill="#fdf8f9" stroke="#c2b0b4" stroke-width="0.45"/><circle cx="374.6" cy="97.7" r="1.22" fill="#fdf8f9" stroke="#c2b0b4" stroke-width="0.45"/><circle cx="378.3" cy="97.7" r="1.51" fill="#fdf8f9" stroke="#c2b0b4" stroke-width="0.45"/><circle cx="297.9" cy="99.4" r="1.21" fill="#fdf8f9" stroke="#c2b0b4" stroke-width="0.45"/><circle cx="301.2" cy="100.3" r="1.20" fill="#fdf8f9" stroke="#c2b0b4" stroke-width="0.45"/><circle cx="304.1" cy="99.8" r="0.94" fill="#fdf8f9" stroke="#c2b0b4" stroke-width="0.45"/><circle cx="306.2" cy="99.6" r="1.59" fill="#fdf8f9" stroke="#c2b0b4" stroke-width="0.45"/><circle cx="310.0" cy="99.9" r="1.28" fill="#fdf8f9" stroke="#c2b0b4" stroke-width="0.45"/><circle cx="312.6" cy="99.8" r="1.51" fill="#fdf8f9" stroke="#c2b0b4" stroke-width="0.45"/><circle cx="315.2" cy="99.8" r="1.11" fill="#fdf8f9" stroke="#c2b0b4" stroke-width="0.45"/><circle cx="318.3" cy="100.4" r="1.16" fill="#fdf8f9" stroke="#c2b0b4" stroke-width="0.45"/><circle cx="320.4" cy="99.6" r="1.31" fill="#fdf8f9" stroke="#c2b0b4" stroke-width="0.45"/><circle cx="324.0" cy="99.5" r="1.16" fill="#fdf8f9" stroke="#c2b0b4" stroke-width="0.45"/><circle cx="326.5" cy="99.7" r="0.96" fill="#fdf8f9" stroke="#c2b0b4" stroke-width="0.45"/><circle cx="329.7" cy="100.5" r="0.92" fill="#fdf8f9" stroke="#c2b0b4" stroke-width="0.45"/><circle cx="332.9" cy="100.4" r="1.27" fill="#fdf8f9" stroke="#c2b0b4" stroke-width="0.45"/><circle cx="336.1" cy="99.9" r="1.49" fill="#fdf8f9" stroke="#c2b0b4" stroke-width="0.45"/><circle cx="337.7" cy="100.4" r="1.38" fill="#fdf8f9" stroke="#c2b0b4" stroke-width="0.45"/><circle cx="341.2" cy="100.4" r="1.16" fill="#fdf8f9" stroke="#c2b0b4" stroke-width="0.45"/><circle cx="343.7" cy="100.3" r="1.10" fill="#fdf8f9" stroke="#c2b0b4" stroke-width="0.45"/><circle cx="346.4" cy="99.4" r="1.32" fill="#fdf8f9" stroke="#c2b0b4" stroke-width="0.45"/><circle cx="349.2" cy="100.4" r="1.15" fill="#fdf8f9" stroke="#c2b0b4" stroke-width="0.45"/><circle cx="352.5" cy="99.8" r="1.03" fill="#fdf8f9" stroke="#c2b0b4" stroke-width="0.45"/><circle cx="355.6" cy="100.1" r="1.26" fill="#fdf8f9" stroke="#c2b0b4" stroke-width="0.45"/><circle cx="358.5" cy="99.5" r="1.36" fill="#fdf8f9" stroke="#c2b0b4" stroke-width="0.45"/><circle cx="361.9" cy="99.5" r="1.59" fill="#fdf8f9" stroke="#c2b0b4" stroke-width="0.45"/><circle cx="364.9" cy="100.6" r="1.21" fill="#fdf8f9" stroke="#c2b0b4" stroke-width="0.45"/><circle cx="366.6" cy="99.9" r="0.95" fill="#fdf8f9" stroke="#c2b0b4" stroke-width="0.45"/><circle cx="370.9" cy="100.4" r="1.20" fill="#fdf8f9" stroke="#c2b0b4" stroke-width="0.45"/><circle cx="373.0" cy="100.1" r="1.13" fill="#fdf8f9" stroke="#c2b0b4" stroke-width="0.45"/><circle cx="375.6" cy="99.8" r="1.52" fill="#fdf8f9" stroke="#c2b0b4" stroke-width="0.45"/><circle cx="379.2" cy="99.4" r="0.96" fill="#fdf8f9" stroke="#c2b0b4" stroke-width="0.45"/><circle cx="296.3" cy="102.4" r="1.55" fill="#fdf8f9" stroke="#c2b0b4" stroke-width="0.45"/><circle cx="298.8" cy="102.2" r="0.96" fill="#fdf8f9" stroke="#c2b0b4" stroke-width="0.45"/><circle cx="302.2" cy="102.0" r="1.50" fill="#fdf8f9" stroke="#c2b0b4" stroke-width="0.45"/><circle cx="305.3" cy="102.3" r="1.59" fill="#fdf8f9" stroke="#c2b0b4" stroke-width="0.45"/><circle cx="307.6" cy="102.8" r="1.04" fill="#fdf8f9" stroke="#c2b0b4" stroke-width="0.45"/><circle cx="310.9" cy="102.4" r="0.99" fill="#fdf8f9" stroke="#c2b0b4" stroke-width="0.45"/><circle cx="314.1" cy="102.8" r="1.15" fill="#fdf8f9" stroke="#c2b0b4" stroke-width="0.45"/><circle cx="317.0" cy="101.9" r="1.50" fill="#fdf8f9" stroke="#c2b0b4" stroke-width="0.45"/><circle cx="319.4" cy="102.1" r="0.94" fill="#fdf8f9" stroke="#c2b0b4" stroke-width="0.45"/><circle cx="323.0" cy="101.9" r="1.04" fill="#fdf8f9" stroke="#c2b0b4" stroke-width="0.45"/><circle cx="326.0" cy="101.8" r="1.48" fill="#fdf8f9" stroke="#c2b0b4" stroke-width="0.45"/><circle cx="328.0" cy="101.9" r="1.54" fill="#fdf8f9" stroke="#c2b0b4" stroke-width="0.45"/><circle cx="330.4" cy="102.3" r="1.03" fill="#fdf8f9" stroke="#c2b0b4" stroke-width="0.45"/><circle cx="334.6" cy="102.7" r="1.17" fill="#fdf8f9" stroke="#c2b0b4" stroke-width="0.45"/><circle cx="336.7" cy="102.1" r="0.94" fill="#fdf8f9" stroke="#c2b0b4" stroke-width="0.45"/><circle cx="339.4" cy="102.0" r="1.02" fill="#fdf8f9" stroke="#c2b0b4" stroke-width="0.45"/><circle cx="342.4" cy="101.8" r="1.39" fill="#fdf8f9" stroke="#c2b0b4" stroke-width="0.45"/><circle cx="345.5" cy="102.4" r="1.05" fill="#fdf8f9" stroke="#c2b0b4" stroke-width="0.45"/><circle cx="348.8" cy="101.9" r="1.07" fill="#fdf8f9" stroke="#c2b0b4" stroke-width="0.45"/><circle cx="351.6" cy="101.9" r="1.37" fill="#fdf8f9" stroke="#c2b0b4" stroke-width="0.45"/><circle cx="354.1" cy="102.3" r="1.43" fill="#fdf8f9" stroke="#c2b0b4" stroke-width="0.45"/><circle cx="357.4" cy="102.2" r="1.32" fill="#fdf8f9" stroke="#c2b0b4" stroke-width="0.45"/><circle cx="360.6" cy="102.7" r="0.94" fill="#fdf8f9" stroke="#c2b0b4" stroke-width="0.45"/><circle cx="363.1" cy="102.0" r="1.24" fill="#fdf8f9" stroke="#c2b0b4" stroke-width="0.45"/><circle cx="366.2" cy="101.9" r="1.53" fill="#fdf8f9" stroke="#c2b0b4" stroke-width="0.45"/><circle cx="369.6" cy="102.1" r="1.47" fill="#fdf8f9" stroke="#c2b0b4" stroke-width="0.45"/><circle cx="371.7" cy="101.9" r="1.60" fill="#fdf8f9" stroke="#c2b0b4" stroke-width="0.45"/><circle cx="374.3" cy="102.6" r="1.40" fill="#fdf8f9" stroke="#c2b0b4" stroke-width="0.45"/><circle cx="376.9" cy="102.3" r="1.31" fill="#fdf8f9" stroke="#c2b0b4" stroke-width="0.45"/><circle cx="297.7" cy="104.6" r="1.50" fill="#fdf8f9" stroke="#c2b0b4" stroke-width="0.45"/><circle cx="300.6" cy="104.6" r="1.50" fill="#fdf8f9" stroke="#c2b0b4" stroke-width="0.45"/><circle cx="304.1" cy="104.2" r="1.31" fill="#fdf8f9" stroke="#c2b0b4" stroke-width="0.45"/><circle cx="306.9" cy="104.7" r="0.97" fill="#fdf8f9" stroke="#c2b0b4" stroke-width="0.45"/><circle cx="310.0" cy="105.1" r="1.11" fill="#fdf8f9" stroke="#c2b0b4" stroke-width="0.45"/><circle cx="313.0" cy="105.0" r="1.28" fill="#fdf8f9" stroke="#c2b0b4" stroke-width="0.45"/><circle cx="314.8" cy="104.0" r="1.42" fill="#fdf8f9" stroke="#c2b0b4" stroke-width="0.45"/><circle cx="318.4" cy="104.4" r="1.38" fill="#fdf8f9" stroke="#c2b0b4" stroke-width="0.45"/><circle cx="321.1" cy="104.3" r="1.24" fill="#fdf8f9" stroke="#c2b0b4" stroke-width="0.45"/><circle cx="324.0" cy="104.5" r="1.39" fill="#fdf8f9" stroke="#c2b0b4" stroke-width="0.45"/><circle cx="326.8" cy="104.4" r="0.98" fill="#fdf8f9" stroke="#c2b0b4" stroke-width="0.45"/><circle cx="329.1" cy="104.5" r="1.41" fill="#fdf8f9" stroke="#c2b0b4" stroke-width="0.45"/><circle cx="332.4" cy="104.7" r="1.04" fill="#fdf8f9" stroke="#c2b0b4" stroke-width="0.45"/><circle cx="334.7" cy="104.6" r="0.97" fill="#fdf8f9" stroke="#c2b0b4" stroke-width="0.45"/><circle cx="338.4" cy="104.2" r="1.04" fill="#fdf8f9" stroke="#c2b0b4" stroke-width="0.45"/><circle cx="341.3" cy="105.1" r="0.97" fill="#fdf8f9" stroke="#c2b0b4" stroke-width="0.45"/><circle cx="344.2" cy="104.5" r="1.51" fill="#fdf8f9" stroke="#c2b0b4" stroke-width="0.45"/><circle cx="346.7" cy="104.4" r="0.95" fill="#fdf8f9" stroke="#c2b0b4" stroke-width="0.45"/><circle cx="349.3" cy="105.1" r="1.56" fill="#fdf8f9" stroke="#c2b0b4" stroke-width="0.45"/><circle cx="352.7" cy="104.3" r="1.23" fill="#fdf8f9" stroke="#c2b0b4" stroke-width="0.45"/><circle cx="355.2" cy="104.7" r="1.57" fill="#fdf8f9" stroke="#c2b0b4" stroke-width="0.45"/><circle cx="358.2" cy="104.3" r="1.26" fill="#fdf8f9" stroke="#c2b0b4" stroke-width="0.45"/><circle cx="362.0" cy="104.9" r="1.59" fill="#fdf8f9" stroke="#c2b0b4" stroke-width="0.45"/><circle cx="363.8" cy="104.8" r="1.53" fill="#fdf8f9" stroke="#c2b0b4" stroke-width="0.45"/><circle cx="366.9" cy="104.5" r="1.43" fill="#fdf8f9" stroke="#c2b0b4" stroke-width="0.45"/><circle cx="370.0" cy="104.9" r="1.58" fill="#fdf8f9" stroke="#c2b0b4" stroke-width="0.45"/><circle cx="373.4" cy="104.3" r="1.02" fill="#fdf8f9" stroke="#c2b0b4" stroke-width="0.45"/><circle cx="375.8" cy="105.0" r="1.26" fill="#fdf8f9" stroke="#c2b0b4" stroke-width="0.45"/><circle cx="379.0" cy="104.8" r="1.42" fill="#fdf8f9" stroke="#c2b0b4" stroke-width="0.45"/><circle cx="296.8" cy="106.6" r="1.20" fill="#fdf8f9" stroke="#c2b0b4" stroke-width="0.45"/><circle cx="299.3" cy="106.8" r="1.28" fill="#fdf8f9" stroke="#c2b0b4" stroke-width="0.45"/><circle cx="301.6" cy="107.1" r="0.93" fill="#fdf8f9" stroke="#c2b0b4" stroke-width="0.45"/><circle cx="305.4" cy="106.9" r="1.05" fill="#fdf8f9" stroke="#c2b0b4" stroke-width="0.45"/><circle cx="308.5" cy="107.2" r="1.57" fill="#fdf8f9" stroke="#c2b0b4" stroke-width="0.45"/><circle cx="310.1" cy="107.0" r="1.16" fill="#fdf8f9" stroke="#c2b0b4" stroke-width="0.45"/><circle cx="314.4" cy="106.6" r="1.42" fill="#fdf8f9" stroke="#c2b0b4" stroke-width="0.45"/><circle cx="317.4" cy="107.2" r="1.01" fill="#fdf8f9" stroke="#c2b0b4" stroke-width="0.45"/><circle cx="319.9" cy="106.5" r="1.24" fill="#fdf8f9" stroke="#c2b0b4" stroke-width="0.45"/><circle cx="322.7" cy="107.0" r="1.28" fill="#fdf8f9" stroke="#c2b0b4" stroke-width="0.45"/><circle cx="324.7" cy="107.1" r="1.01" fill="#fdf8f9" stroke="#c2b0b4" stroke-width="0.45"/><circle cx="327.6" cy="106.3" r="1.52" fill="#fdf8f9" stroke="#c2b0b4" stroke-width="0.45"/><circle cx="331.6" cy="106.8" r="0.96" fill="#fdf8f9" stroke="#c2b0b4" stroke-width="0.45"/><circle cx="334.8" cy="107.1" r="1.22" fill="#fdf8f9" stroke="#c2b0b4" stroke-width="0.45"/><circle cx="337.2" cy="106.3" r="1.08" fill="#fdf8f9" stroke="#c2b0b4" stroke-width="0.45"/><circle cx="340.1" cy="106.5" r="1.10" fill="#fdf8f9" stroke="#c2b0b4" stroke-width="0.45"/><circle cx="342.7" cy="106.7" r="0.92" fill="#fdf8f9" stroke="#c2b0b4" stroke-width="0.45"/><circle cx="345.0" cy="107.3" r="1.58" fill="#fdf8f9" stroke="#c2b0b4" stroke-width="0.45"/><circle cx="349.0" cy="106.9" r="1.17" fill="#fdf8f9" stroke="#c2b0b4" stroke-width="0.45"/><circle cx="351.1" cy="106.6" r="1.37" fill="#fdf8f9" stroke="#c2b0b4" stroke-width="0.45"/><circle cx="354.8" cy="106.7" r="1.22" fill="#fdf8f9" stroke="#c2b0b4" stroke-width="0.45"/><circle cx="357.1" cy="106.4" r="1.06" fill="#fdf8f9" stroke="#c2b0b4" stroke-width="0.45"/><circle cx="360.2" cy="107.0" r="1.12" fill="#fdf8f9" stroke="#c2b0b4" stroke-width="0.45"/><circle cx="362.7" cy="106.3" r="1.32" fill="#fdf8f9" stroke="#c2b0b4" stroke-width="0.45"/><circle cx="365.6" cy="106.6" r="0.92" fill="#fdf8f9" stroke="#c2b0b4" stroke-width="0.45"/><circle cx="368.4" cy="107.2" r="1.30" fill="#fdf8f9" stroke="#c2b0b4" stroke-width="0.45"/><circle cx="372.0" cy="107.2" r="1.32" fill="#fdf8f9" stroke="#c2b0b4" stroke-width="0.45"/><circle cx="374.5" cy="106.7" r="1.27" fill="#fdf8f9" stroke="#c2b0b4" stroke-width="0.45"/><circle cx="378.0" cy="106.9" r="0.94" fill="#fdf8f9" stroke="#c2b0b4" stroke-width="0.45"/><circle cx="298.4" cy="109.3" r="0.97" fill="#fdf8f9" stroke="#c2b0b4" stroke-width="0.45"/><circle cx="300.6" cy="108.8" r="1.34" fill="#fdf8f9" stroke="#c2b0b4" stroke-width="0.45"/><circle cx="303.0" cy="109.1" r="1.60" fill="#fdf8f9" stroke="#c2b0b4" stroke-width="0.45"/><circle cx="305.8" cy="109.2" r="1.60" fill="#fdf8f9" stroke="#c2b0b4" stroke-width="0.45"/><circle cx="308.9" cy="109.7" r="1.24" fill="#fdf8f9" stroke="#c2b0b4" stroke-width="0.45"/><circle cx="311.5" cy="109.2" r="1.19" fill="#fdf8f9" stroke="#c2b0b4" stroke-width="0.45"/><circle cx="315.5" cy="109.7" r="0.90" fill="#fdf8f9" stroke="#c2b0b4" stroke-width="0.45"/><circle cx="317.3" cy="109.5" r="1.53" fill="#fdf8f9" stroke="#c2b0b4" stroke-width="0.45"/><circle cx="320.9" cy="109.0" r="1.11" fill="#fdf8f9" stroke="#c2b0b4" stroke-width="0.45"/><circle cx="323.3" cy="109.4" r="1.11" fill="#fdf8f9" stroke="#c2b0b4" stroke-width="0.45"/><circle cx="327.5" cy="108.7" r="0.96" fill="#fdf8f9" stroke="#c2b0b4" stroke-width="0.45"/><circle cx="329.2" cy="108.7" r="1.57" fill="#fdf8f9" stroke="#c2b0b4" stroke-width="0.45"/><circle cx="332.6" cy="109.6" r="1.42" fill="#fdf8f9" stroke="#c2b0b4" stroke-width="0.45"/><circle cx="335.7" cy="108.7" r="1.26" fill="#fdf8f9" stroke="#c2b0b4" stroke-width="0.45"/><circle cx="338.4" cy="109.8" r="1.37" fill="#fdf8f9" stroke="#c2b0b4" stroke-width="0.45"/><circle cx="340.6" cy="109.5" r="0.90" fill="#fdf8f9" stroke="#c2b0b4" stroke-width="0.45"/><circle cx="344.0" cy="109.5" r="1.55" fill="#fdf8f9" stroke="#c2b0b4" stroke-width="0.45"/><circle cx="346.9" cy="109.2" r="1.29" fill="#fdf8f9" stroke="#c2b0b4" stroke-width="0.45"/><circle cx="349.2" cy="109.0" r="1.32" fill="#fdf8f9" stroke="#c2b0b4" stroke-width="0.45"/><circle cx="352.5" cy="109.2" r="1.42" fill="#fdf8f9" stroke="#c2b0b4" stroke-width="0.45"/><circle cx="355.5" cy="109.4" r="1.08" fill="#fdf8f9" stroke="#c2b0b4" stroke-width="0.45"/><circle cx="359.4" cy="109.2" r="1.42" fill="#fdf8f9" stroke="#c2b0b4" stroke-width="0.45"/><circle cx="361.3" cy="108.7" r="1.04" fill="#fdf8f9" stroke="#c2b0b4" stroke-width="0.45"/><circle cx="364.6" cy="109.4" r="1.07" fill="#fdf8f9" stroke="#c2b0b4" stroke-width="0.45"/><circle cx="366.8" cy="108.8" r="1.07" fill="#fdf8f9" stroke="#c2b0b4" stroke-width="0.45"/><circle cx="370.3" cy="108.9" r="1.03" fill="#fdf8f9" stroke="#c2b0b4" stroke-width="0.45"/><circle cx="373.3" cy="109.0" r="1.52" fill="#fdf8f9" stroke="#c2b0b4" stroke-width="0.45"/><circle cx="375.3" cy="109.5" r="1.20" fill="#fdf8f9" stroke="#c2b0b4" stroke-width="0.45"/><circle cx="378.7" cy="109.5" r="1.43" fill="#fdf8f9" stroke="#c2b0b4" stroke-width="0.45"/><circle cx="295.9" cy="111.2" r="1.09" fill="#fdf8f9" stroke="#c2b0b4" stroke-width="0.45"/><circle cx="299.4" cy="111.7" r="1.04" fill="#fdf8f9" stroke="#c2b0b4" stroke-width="0.45"/><circle cx="301.5" cy="111.9" r="1.41" fill="#fdf8f9" stroke="#c2b0b4" stroke-width="0.45"/><circle cx="304.8" cy="111.6" r="1.23" fill="#fdf8f9" stroke="#c2b0b4" stroke-width="0.45"/><circle cx="307.4" cy="111.4" r="1.20" fill="#fdf8f9" stroke="#c2b0b4" stroke-width="0.45"/><circle cx="311.1" cy="112.1" r="1.35" fill="#fdf8f9" stroke="#c2b0b4" stroke-width="0.45"/><circle cx="314.3" cy="111.9" r="1.04" fill="#fdf8f9" stroke="#c2b0b4" stroke-width="0.45"/><circle cx="317.4" cy="111.1" r="1.40" fill="#fdf8f9" stroke="#c2b0b4" stroke-width="0.45"/><circle cx="320.1" cy="111.1" r="1.44" fill="#fdf8f9" stroke="#c2b0b4" stroke-width="0.45"/><circle cx="323.1" cy="111.3" r="1.32" fill="#fdf8f9" stroke="#c2b0b4" stroke-width="0.45"/><circle cx="326.0" cy="111.5" r="1.50" fill="#fdf8f9" stroke="#c2b0b4" stroke-width="0.45"/><circle cx="327.7" cy="112.0" r="1.00" fill="#fdf8f9" stroke="#c2b0b4" stroke-width="0.45"/><circle cx="330.8" cy="111.5" r="1.20" fill="#fdf8f9" stroke="#c2b0b4" stroke-width="0.45"/><circle cx="333.6" cy="111.0" r="1.55" fill="#fdf8f9" stroke="#c2b0b4" stroke-width="0.45"/><circle cx="336.6" cy="111.4" r="1.56" fill="#fdf8f9" stroke="#c2b0b4" stroke-width="0.45"/><circle cx="339.5" cy="111.1" r="1.58" fill="#fdf8f9" stroke="#c2b0b4" stroke-width="0.45"/><circle cx="342.3" cy="111.2" r="1.52" fill="#fdf8f9" stroke="#c2b0b4" stroke-width="0.45"/><circle cx="345.2" cy="112.0" r="1.56" fill="#fdf8f9" stroke="#c2b0b4" stroke-width="0.45"/><circle cx="348.2" cy="111.2" r="1.13" fill="#fdf8f9" stroke="#c2b0b4" stroke-width="0.45"/><circle cx="351.5" cy="111.4" r="1.28" fill="#fdf8f9" stroke="#c2b0b4" stroke-width="0.45"/><circle cx="354.0" cy="112.0" r="1.26" fill="#fdf8f9" stroke="#c2b0b4" stroke-width="0.45"/><circle cx="357.6" cy="111.9" r="1.55" fill="#fdf8f9" stroke="#c2b0b4" stroke-width="0.45"/><circle cx="359.7" cy="111.2" r="0.95" fill="#fdf8f9" stroke="#c2b0b4" stroke-width="0.45"/><circle cx="363.7" cy="112.0" r="1.01" fill="#fdf8f9" stroke="#c2b0b4" stroke-width="0.45"/><circle cx="366.0" cy="111.1" r="1.54" fill="#fdf8f9" stroke="#c2b0b4" stroke-width="0.45"/><circle cx="368.1" cy="112.0" r="1.20" fill="#fdf8f9" stroke="#c2b0b4" stroke-width="0.45"/><circle cx="371.4" cy="112.1" r="1.09" fill="#fdf8f9" stroke="#c2b0b4" stroke-width="0.45"/><circle cx="375.3" cy="111.3" r="1.04" fill="#fdf8f9" stroke="#c2b0b4" stroke-width="0.45"/><circle cx="376.9" cy="112.0" r="1.37" fill="#fdf8f9" stroke="#c2b0b4" stroke-width="0.45"/></g><ellipse cx="337.1" cy="101.6" rx="40.8" ry="8.6" fill="none" stroke="#c8c8c8" stroke-width="0.8"/>
<line x1="295.6" y1="57.0" x2="295.6" y2="101.0" stroke="#bdbdbd" stroke-width="1.1" /><line x1="378.6" y1="57.0" x2="378.6" y2="101.0" stroke="#bdbdbd" stroke-width="1.1" />
<ellipse cx="337.1" cy="71" rx="37.8" ry="4.3" fill="#eea0ae"/>
<line x1="299.3" y1="62.0" x2="299.3" y2="83.0" stroke="#bdbdbd" stroke-width="1.0" /><line x1="374.9" y1="62.0" x2="374.9" y2="83.0" stroke="#bdbdbd" stroke-width="1.0" />
<ellipse cx="337.1" cy="83" rx="37.8" ry="6.9" fill="#d6222a"/>
<circle cx="305.5" cy="85.6" r="0.9" fill="#f6c0c4"/>
<circle cx="314.5" cy="79.5" r="0.9" fill="#f6c0c4"/>
<circle cx="324.5" cy="82" r="0.9" fill="#f6c0c4"/>
<circle cx="332" cy="81.5" r="0.9" fill="#f6c0c4"/>
<circle cx="349" cy="78" r="0.9" fill="#f6c0c4"/>
<circle cx="355" cy="83.5" r="0.9" fill="#f6c0c4"/>
<circle cx="363" cy="80.5" r="0.9" fill="#f6c0c4"/>
<circle cx="371" cy="85" r="0.9" fill="#f6c0c4"/>
<ellipse cx="337.1" cy="57" rx="41.5" ry="7.7" fill="none" stroke="#bdbdbd" stroke-width="1.3"/><ellipse cx="337.6" cy="57.6" rx="37.7" ry="5.9" fill="none" stroke="#bdbdbd" stroke-width="1.1"/>
<line x1="292.4" y1="31.0" x2="319.4" y2="52.0" stroke="#000" stroke-width="1.6" />
<line x1="312.8" y1="84.0" x2="312.8" y2="94.0" stroke="#000" stroke-width="1.5" /><polyline points="309.8,90.6 312.8,94.0 315.8,90.6" fill="none" stroke="#000" stroke-width="1.6" stroke-linejoin="round"/>
<line x1="328.5" y1="94.0" x2="328.5" y2="84.0" stroke="#000" stroke-width="1.5" /><polyline points="325.5,87.4 328.5,84.0 331.5,87.4" fill="none" stroke="#000" stroke-width="1.6" stroke-linejoin="round"/>
<line x1="344.4" y1="84.0" x2="344.4" y2="94.0" stroke="#000" stroke-width="1.5" /><polyline points="341.4,90.6 344.4,94.0 347.4,90.6" fill="none" stroke="#000" stroke-width="1.6" stroke-linejoin="round"/>
<line x1="360.4" y1="94.0" x2="360.4" y2="84.0" stroke="#000" stroke-width="1.5" /><polyline points="357.4,87.4 360.4,84.0 363.4,87.4" fill="none" stroke="#000" stroke-width="1.6" stroke-linejoin="round"/>
<line x1="336.0" y1="98.6" x2="336.0" y2="124.6" stroke="#000" stroke-width="1.6" />
<rect x="294.8" y="124.8" width="84.6" height="19.7" fill="#fff" stroke="#000" stroke-width="1.1"/>
<text x="303.7" y="138.8" font-size="10.9" textLength="63" lengthAdjust="spacingAndGlyphs" >CPA, CITCO</text>
<line x1="380.0" y1="79.3" x2="427.6" y2="29.2" stroke="#000" stroke-width="1.6" /><polyline points="426.2,35.0 427.6,29.2 421.8,30.9" fill="none" stroke="#000" stroke-width="1.6" stroke-linejoin="round"/>
<line x1="380.0" y1="79.3" x2="427.6" y2="79.2" stroke="#000" stroke-width="1.6" /><polyline points="422.4,82.2 427.6,79.2 422.4,76.2" fill="none" stroke="#000" stroke-width="1.6" stroke-linejoin="round"/>
<line x1="380.0" y1="79.3" x2="427.6" y2="131.0" stroke="#000" stroke-width="1.6" /><polyline points="421.9,129.2 427.6,131.0 426.3,125.1" fill="none" stroke="#000" stroke-width="1.6" stroke-linejoin="round"/>
<rect x="428" y="8.9" width="82.4" height="37.9" rx="5.5" fill="#fff" stroke="#000" stroke-width="1.4"/>
<rect x="428" y="60.5" width="82.4" height="38.2" rx="5.5" fill="#fff" stroke="#000" stroke-width="1.4"/>
<rect x="428" y="112.3" width="82.4" height="38.7" rx="5.5" fill="#fff" stroke="#000" stroke-width="1.4"/>
<text x="446.3" y="21.1" font-size="9.6" textLength="46.2" lengthAdjust="spacingAndGlyphs" >HL-60 cells</text><line x1="446.3" y1="22.5" x2="492.5" y2="22.5" stroke="#000" stroke-width="0.8" />
<text x="445.2" y="32.5" font-size="9.6" textLength="48.4" lengthAdjust="spacingAndGlyphs" >Cytotoxicity</text>
<text x="448.7" y="42.4" font-size="9.6" textLength="41.8" lengthAdjust="spacingAndGlyphs" >Apoptosis</text>
<text x="435.8" y="72.4" font-size="9.6" textLength="66.4" lengthAdjust="spacingAndGlyphs" >Culture Medium</text><line x1="435.8" y1="73.8" x2="502.2" y2="73.8" stroke="#000" stroke-width="0.8" />
<text x="452.5" y="82.9" font-size="9.6" textLength="33.5" lengthAdjust="spacingAndGlyphs" >4-OHCP</text>
<text x="449.5" y="93.3" font-size="9.6" textLength="39.5" lengthAdjust="spacingAndGlyphs" >formation</text>
<text x="445.3" y="128.8" font-size="9.6" textLength="49.3" lengthAdjust="spacingAndGlyphs" >Hepatocytes</text><line x1="445.3" y1="130.2" x2="494.6" y2="130.2" stroke="#000" stroke-width="0.8" />
<text x="445.3" y="140.6" font-size="9.6" textLength="48.4" lengthAdjust="spacingAndGlyphs" >Cytotoxicity</text>
<text x="2.0" y="198.8" font-size="16" >B</text>
<line x1="51.9" y1="222.4" x2="51.9" y2="361.4" stroke="#000" stroke-width="2.0" />
<line x1="50.9" y1="360.4" x2="244.0" y2="360.4" stroke="#000" stroke-width="2.0" />
<line x1="48.7" y1="222.9" x2="51.9" y2="222.9" stroke="#000" stroke-width="1.6" />
<text x="43.4" y="226.4" font-size="10.4" text-anchor="end" >100</text>
<line x1="48.7" y1="250.3" x2="51.9" y2="250.3" stroke="#000" stroke-width="1.6" />
<text x="43.4" y="253.8" font-size="10.4" text-anchor="end" >80</text>
<line x1="48.7" y1="277.8" x2="51.9" y2="277.8" stroke="#000" stroke-width="1.6" />
<text x="43.4" y="281.3" font-size="10.4" text-anchor="end" >60</text>
<line x1="48.7" y1="305.2" x2="51.9" y2="305.2" stroke="#000" stroke-width="1.6" />
<text x="43.4" y="308.8" font-size="10.4" text-anchor="end" >40</text>
<line x1="48.7" y1="332.7" x2="51.9" y2="332.7" stroke="#000" stroke-width="1.6" />
<text x="43.4" y="336.2" font-size="10.4" text-anchor="end" >20</text>
<line x1="48.7" y1="360.1" x2="51.9" y2="360.1" stroke="#000" stroke-width="1.6" />
<text x="43.4" y="363.6" font-size="10.4" text-anchor="end" >0</text>
<line x1="90.0" y1="360.4" x2="90.0" y2="363.2" stroke="#000" stroke-width="1.6" />
<text x="90.0" y="377.5" font-size="10.4" text-anchor="middle" >0</text>
<line x1="128.5" y1="360.4" x2="128.5" y2="363.2" stroke="#000" stroke-width="1.6" />
<text x="128.5" y="377.5" font-size="10.4" text-anchor="middle" >250</text>
<line x1="167.0" y1="360.4" x2="167.0" y2="363.2" stroke="#000" stroke-width="1.6" />
<text x="167.0" y="377.5" font-size="10.4" text-anchor="middle" >500</text>
<line x1="205.5" y1="360.4" x2="205.5" y2="363.2" stroke="#000" stroke-width="1.6" />
<text x="205.5" y="377.5" font-size="10.4" text-anchor="middle" >1000</text>
<text x="223.5" y="375.6" font-size="11" textLength="50.7" lengthAdjust="spacingAndGlyphs" >(µM CPA)</text>
<text x="91.2" y="201.2" font-size="9.6" textLength="82.6" lengthAdjust="spacingAndGlyphs" >HL#37 dose curve</text>
<text x="0.0" y="0.0" font-size="12.4" textLength="85.3" lengthAdjust="spacingAndGlyphs" transform="translate(20.1,290.7) rotate(-90)" text-anchor="middle">HL-60 Viability</text>
<polyline points="90.0,225.0 128.6,306.3 166.7,321.6 205.0,327.6" fill="none" stroke="#000" stroke-width="1.4" stroke-linejoin="round"/>
<polyline points="90.0,225.0 128.2,262.1 166.7,291.6 205.0,301.5" fill="none" stroke="#000" stroke-width="1.4" stroke-linejoin="round"/>
<polyline points="90.0,225.0 128.3,223.1 166.6,227.2 204.8,224.6" fill="none" stroke="#000" stroke-width="1.4" stroke-linejoin="round"/>
<line x1="128.2" y1="255.4" x2="128.2" y2="268.8" stroke="#000" stroke-width="1.1" /><line x1="125.9" y1="255.4" x2="130.5" y2="255.4" stroke="#000" stroke-width="1.1" /><line x1="125.9" y1="268.8" x2="130.5" y2="268.8" stroke="#000" stroke-width="1.1" />
<line x1="166.7" y1="280.6" x2="166.7" y2="302.8" stroke="#000" stroke-width="1.1" /><line x1="164.4" y1="280.6" x2="169.0" y2="280.6" stroke="#000" stroke-width="1.1" /><line x1="164.4" y1="302.8" x2="169.0" y2="302.8" stroke="#000" stroke-width="1.1" />
<line x1="205.0" y1="289.4" x2="205.0" y2="313.0" stroke="#000" stroke-width="1.1" /><line x1="202.7" y1="289.4" x2="207.3" y2="289.4" stroke="#000" stroke-width="1.1" /><line x1="202.7" y1="313.0" x2="207.3" y2="313.0" stroke="#000" stroke-width="1.1" />
<line x1="128.6" y1="298.8" x2="128.6" y2="311.4" stroke="#000" stroke-width="1.1" /><line x1="126.3" y1="298.8" x2="130.9" y2="298.8" stroke="#000" stroke-width="1.1" /><line x1="126.3" y1="311.4" x2="130.9" y2="311.4" stroke="#000" stroke-width="1.1" />
<line x1="166.7" y1="317.5" x2="166.7" y2="326.0" stroke="#000" stroke-width="1.1" /><line x1="164.4" y1="317.5" x2="169.0" y2="317.5" stroke="#000" stroke-width="1.1" /><line x1="164.4" y1="326.0" x2="169.0" y2="326.0" stroke="#000" stroke-width="1.1" />
<line x1="205.0" y1="320.6" x2="205.0" y2="333.2" stroke="#000" stroke-width="1.1" /><line x1="202.7" y1="320.6" x2="207.3" y2="320.6" stroke="#000" stroke-width="1.1" /><line x1="202.7" y1="333.2" x2="207.3" y2="333.2" stroke="#000" stroke-width="1.1" />
<circle cx="128.3" cy="223.1" r="3.6" fill="#000"/>
<circle cx="166.6" cy="227.2" r="3.6" fill="#000"/>
<circle cx="204.8" cy="224.6" r="3.6" fill="#000"/>
<circle cx="128.2" cy="262.1" r="3.4" fill="#fff" stroke="#000" stroke-width="1.1"/>
<circle cx="166.7" cy="291.6" r="3.4" fill="#fff" stroke="#000" stroke-width="1.1"/>
<circle cx="205.0" cy="301.5" r="3.4" fill="#fff" stroke="#000" stroke-width="1.1"/>
<circle cx="90.0" cy="225.5" r="3.4" fill="#fff" stroke="#000" stroke-width="1.1"/>
<polygon points="86.0,222.0 94.0,222.0 90.0,228.4" fill="#000"/>
<polygon points="124.8,302.9 132.4,302.9 128.6,309.7" fill="#000"/>
<polygon points="162.9,318.2 170.5,318.2 166.7,325.0" fill="#000"/>
<polygon points="201.2,324.6 208.8,324.6 205.0,331.4" fill="#000"/>
<path d="M125.90,291.30L125.90,289.50M125.90,291.30L127.61,290.74M125.90,291.30L126.96,292.76M125.90,291.30L124.84,292.76M125.90,291.30L124.19,290.74" stroke="#000" stroke-width="1.35" stroke-linecap="round" fill="none"/><path d="M131.30,291.30L131.30,289.50M131.30,291.30L133.01,290.74M131.30,291.30L132.36,292.76M131.30,291.30L130.24,292.76M131.30,291.30L129.59,290.74" stroke="#000" stroke-width="1.35" stroke-linecap="round" fill="none"/>
<path d="M164.00,312.00L164.00,310.20M164.00,312.00L165.71,311.44M164.00,312.00L165.06,313.46M164.00,312.00L162.94,313.46M164.00,312.00L162.29,311.44" stroke="#000" stroke-width="1.35" stroke-linecap="round" fill="none"/><path d="M169.40,312.00L169.40,310.20M169.40,312.00L171.11,311.44M169.40,312.00L170.46,313.46M169.40,312.00L168.34,313.46M169.40,312.00L167.69,311.44" stroke="#000" stroke-width="1.35" stroke-linecap="round" fill="none"/>
<path d="M205.00,315.60L205.00,313.60M205.00,315.60L206.90,314.98M205.00,315.60L206.18,317.22M205.00,315.60L203.82,317.22M205.00,315.60L203.10,314.98" stroke="#000" stroke-width="1.35" stroke-linecap="round" fill="none"/>
<line x1="60.0" y1="311.1" x2="77.2" y2="311.1" stroke="#000" stroke-width="1.4" />
<circle cx="68.4" cy="311.1" r="3.4" fill="#000"/>
<text x="81.6" y="313.4" font-size="8.2" textLength="27.2" lengthAdjust="spacingAndGlyphs" >No HPH</text>
<line x1="60.0" y1="322.1" x2="77.2" y2="322.1" stroke="#000" stroke-width="1.4" />
<circle cx="68.4" cy="322.1" r="3.2" fill="#fff" stroke="#000" stroke-width="1.1"/>
<text x="81.6" y="324.4" font-size="8.2" textLength="15" lengthAdjust="spacingAndGlyphs" >HPH</text>
<line x1="60.0" y1="333.2" x2="77.2" y2="333.2" stroke="#000" stroke-width="1.4" />
<polygon points="64.4,330.2 72.4,330.2 68.4,337.2" fill="#000"/>
<text x="81.6" y="335.5" font-size="8.2" textLength="43.2" lengthAdjust="spacingAndGlyphs" >HPH+CITCO</text>
<text x="278.7" y="198.8" font-size="16" >C</text>
<line x1="331.5" y1="223.6" x2="331.5" y2="361.0" stroke="#000" stroke-width="2.0" />
<line x1="330.5" y1="360.0" x2="517.0" y2="360.0" stroke="#000" stroke-width="2.0" />
<line x1="328.3" y1="224.2" x2="331.5" y2="224.2" stroke="#000" stroke-width="1.6" />
<text x="323.0" y="227.7" font-size="10.4" text-anchor="end" >100</text>
<line x1="328.3" y1="251.3" x2="331.5" y2="251.3" stroke="#000" stroke-width="1.6" />
<text x="323.0" y="254.8" font-size="10.4" text-anchor="end" >80</text>
<line x1="328.3" y1="278.4" x2="331.5" y2="278.4" stroke="#000" stroke-width="1.6" />
<text x="323.0" y="281.9" font-size="10.4" text-anchor="end" >60</text>
<line x1="328.3" y1="305.5" x2="331.5" y2="305.5" stroke="#000" stroke-width="1.6" />
<text x="323.0" y="309.0" font-size="10.4" text-anchor="end" >40</text>
<line x1="328.3" y1="332.6" x2="331.5" y2="332.6" stroke="#000" stroke-width="1.6" />
<text x="323.0" y="336.1" font-size="10.4" text-anchor="end" >20</text>
<line x1="328.3" y1="359.7" x2="331.5" y2="359.7" stroke="#000" stroke-width="1.6" />
<text x="323.0" y="363.2" font-size="10.4" text-anchor="end" >0</text>
<line x1="362.2" y1="360.0" x2="362.2" y2="362.8" stroke="#000" stroke-width="1.6" />
<text x="362.2" y="377.2" font-size="10.4" text-anchor="middle" >0h</text>
<line x1="393.3" y1="360.0" x2="393.3" y2="362.8" stroke="#000" stroke-width="1.6" />
<text x="393.3" y="377.2" font-size="10.4" text-anchor="middle" >12h</text>
<line x1="424.2" y1="360.0" x2="424.2" y2="362.8" stroke="#000" stroke-width="1.6" />
<text x="424.2" y="377.2" font-size="10.4" text-anchor="middle" >24h</text>
<line x1="455.1" y1="360.0" x2="455.1" y2="362.8" stroke="#000" stroke-width="1.6" />
<text x="455.1" y="377.2" font-size="10.4" text-anchor="middle" >36h</text>
<line x1="486.0" y1="360.0" x2="486.0" y2="362.8" stroke="#000" stroke-width="1.6" />
<text x="486.0" y="377.2" font-size="10.4" text-anchor="middle" >48h</text>
<text x="355.3" y="204.6" font-size="9.6" textLength="102.2" lengthAdjust="spacingAndGlyphs" >HL#37 CPA time curve</text>
<text x="0.0" y="0.0" font-size="12.4" textLength="85.4" lengthAdjust="spacingAndGlyphs" transform="translate(304.8,292.1) rotate(-90)" text-anchor="middle">HL-60 Viability</text>
<polyline points="362.0,227.3 393.3,234.6 424.2,285.3 455.0,320.7 486.0,350.9" fill="none" stroke="#000" stroke-width="1.2" stroke-linejoin="round"/>
<polyline points="362.0,227.3 393.3,232.0 424.2,256.5 455.0,292.1 486.0,335.7" fill="none" stroke="#000" stroke-width="1.2" stroke-linejoin="round"/>
<polyline points="362.0,227.3 393.3,229.2 424.2,236.9 455.0,225.9 486.0,225.6" fill="none" stroke="#000" stroke-width="1.2" stroke-linejoin="round"/>
<polyline points="362.0,227.3 393.3,228.5 424.2,230.6 455.0,227.2 486.0,225.6" fill="none" stroke="#000" stroke-width="1.2" stroke-linejoin="round"/>
<line x1="455.0" y1="286.9" x2="455.0" y2="297.3" stroke="#000" stroke-width="1.1" /><line x1="451.2" y1="286.9" x2="458.8" y2="286.9" stroke="#000" stroke-width="1.1" /><line x1="451.2" y1="297.3" x2="458.8" y2="297.3" stroke="#000" stroke-width="1.1" />
<polygon points="389.1,228.5 397.5,228.5 393.3,235.5" fill="#000"/>
<polygon points="420.0,253.0 428.4,253.0 424.2,260.0" fill="#000"/>
<polygon points="450.8,288.6 459.2,288.6 455.0,295.6" fill="#000"/>
<polygon points="481.8,332.2 490.2,332.2 486.0,339.2" fill="#000"/>
<polygon points="389.4,237.7 397.2,237.7 393.3,231.5" fill="#fff" stroke="#000" stroke-width="1.1" stroke-linejoin="miter"/>
<polygon points="420.3,288.4 428.1,288.4 424.2,282.2" fill="#fff" stroke="#000" stroke-width="1.1" stroke-linejoin="miter"/>
<polygon points="451.1,323.8 458.9,323.8 455.0,317.6" fill="#fff" stroke="#000" stroke-width="1.1" stroke-linejoin="miter"/>
<polygon points="482.1,354.0 489.9,354.0 486.0,347.8" fill="#fff" stroke="#000" stroke-width="1.1" stroke-linejoin="miter"/>
<circle cx="362.0" cy="227.3" r="3.5" fill="#000"/>
<circle cx="393.3" cy="228.5" r="3.5" fill="#000"/>
<circle cx="424.2" cy="230.6" r="3.5" fill="#000"/>
<circle cx="424.2" cy="236.9" r="3.4" fill="#fff" stroke="#000" stroke-width="1.1"/>
<circle cx="455.0" cy="225.9" r="3.4" fill="#fff" stroke="#000" stroke-width="1.1"/>
<circle cx="486.0" cy="225.6" r="3.4" fill="#fff" stroke="#000" stroke-width="1.1"/>
<circle cx="362.0" cy="227.3" r="3.4" fill="#fff" stroke="#000" stroke-width="1.1"/>
<polygon points="358.6,229.8 365.4,229.8 362.0,224.2" fill="#fff" stroke="#000" stroke-width="1.1" stroke-linejoin="miter"/>
<path d="M421.70,278.40L421.70,276.70M421.70,278.40L423.32,277.87M421.70,278.40L422.70,279.78M421.70,278.40L420.70,279.78M421.70,278.40L420.08,277.87" stroke="#000" stroke-width="1.35" stroke-linecap="round" fill="none"/><path d="M426.70,278.40L426.70,276.70M426.70,278.40L428.32,277.87M426.70,278.40L427.70,279.78M426.70,278.40L425.70,279.78M426.70,278.40L425.08,277.87" stroke="#000" stroke-width="1.35" stroke-linecap="round" fill="none"/>
<path d="M452.50,312.20L452.50,310.50M452.50,312.20L454.12,311.67M452.50,312.20L453.50,313.58M452.50,312.20L451.50,313.58M452.50,312.20L450.88,311.67" stroke="#000" stroke-width="1.35" stroke-linecap="round" fill="none"/><path d="M457.50,312.20L457.50,310.50M457.50,312.20L459.12,311.67M457.50,312.20L458.50,313.58M457.50,312.20L456.50,313.58M457.50,312.20L455.88,311.67" stroke="#000" stroke-width="1.35" stroke-linecap="round" fill="none"/>
<path d="M483.50,344.20L483.50,342.50M483.50,344.20L485.12,343.67M483.50,344.20L484.50,345.58M483.50,344.20L482.50,345.58M483.50,344.20L481.88,343.67" stroke="#000" stroke-width="1.35" stroke-linecap="round" fill="none"/><path d="M488.50,344.20L488.50,342.50M488.50,344.20L490.12,343.67M488.50,344.20L489.50,345.58M488.50,344.20L487.50,345.58M488.50,344.20L486.88,343.67" stroke="#000" stroke-width="1.35" stroke-linecap="round" fill="none"/>
<line x1="351.9" y1="295.8" x2="370.8" y2="295.8" stroke="#000" stroke-width="1.3" />
<circle cx="361.4" cy="295.8" r="3.3" fill="#000"/>
<text x="375.6" y="298.8" font-size="9.0" textLength="11.2" lengthAdjust="spacingAndGlyphs" >CT</text>
<line x1="351.9" y1="308.3" x2="370.8" y2="308.3" stroke="#000" stroke-width="1.3" />
<circle cx="361.4" cy="308.3" r="3.1" fill="#fff" stroke="#000" stroke-width="1.1"/>
<text x="375.6" y="311.3" font-size="9.0" textLength="25.5" lengthAdjust="spacingAndGlyphs" >CITCO</text>
<line x1="351.9" y1="320.1" x2="370.8" y2="320.1" stroke="#000" stroke-width="1.3" />
<polygon points="357.8,316.9 365.0,316.9 361.4,323.3" fill="#000"/>
<text x="375.6" y="323.1" font-size="9.0" textLength="17" lengthAdjust="spacingAndGlyphs" >CPA</text>
<line x1="351.9" y1="332.3" x2="370.8" y2="332.3" stroke="#000" stroke-width="1.3" />
<polygon points="357.8,335.3 365.0,335.3 361.4,329.3" fill="#fff" stroke="#000" stroke-width="1.1" stroke-linejoin="miter"/>
<text x="375.6" y="335.3" font-size="9.0" textLength="48.0" lengthAdjust="spacingAndGlyphs" >CPA+CITCO</text>
<text x="2.0" y="421.2" font-size="16" >D</text>
<line x1="104.2" y1="425.6" x2="104.2" y2="627.2" stroke="#000" stroke-width="2.8" />
<line x1="102.9" y1="625.9" x2="511.3" y2="625.9" stroke="#000" stroke-width="2.6" />
<line x1="98.4" y1="426.4" x2="104.2" y2="426.4" stroke="#000" stroke-width="2.0" />
<line x1="98.4" y1="455.0" x2="104.2" y2="455.0" stroke="#000" stroke-width="2.0" />
<line x1="98.4" y1="483.5" x2="104.2" y2="483.5" stroke="#000" stroke-width="2.0" />
<line x1="98.4" y1="512.1" x2="104.2" y2="512.1" stroke="#000" stroke-width="2.0" />
<line x1="98.4" y1="540.6" x2="104.2" y2="540.6" stroke="#000" stroke-width="2.0" />
<line x1="98.4" y1="569.2" x2="104.2" y2="569.2" stroke="#000" stroke-width="2.0" />
<line x1="98.4" y1="597.8" x2="104.2" y2="597.8" stroke="#000" stroke-width="2.0" />
<line x1="98.4" y1="626.3" x2="104.2" y2="626.3" stroke="#000" stroke-width="2.0" />
<text x="39.5 49.6 59.8 69.9 80.1" y="430.2" font-size="11.2" style="stroke-width:0.4px">35000</text>
<text x="39.5 49.6 59.8 69.9 80.1" y="458.8" font-size="11.2" style="stroke-width:0.4px">30000</text>
<text x="39.5 49.6 59.8 69.9 80.1" y="487.3" font-size="11.2" style="stroke-width:0.4px">25000</text>
<text x="39.5 49.6 59.8 69.9 80.1" y="515.9" font-size="11.2" style="stroke-width:0.4px">20000</text>
<text x="39.5 49.6 59.8 69.9 80.1" y="544.4" font-size="11.2" style="stroke-width:0.4px">15000</text>
<text x="39.5 49.6 59.8 69.9 80.1" y="573.0" font-size="11.2" style="stroke-width:0.4px">10000</text>
<text x="49.6 59.8 69.9 80.1" y="601.6" font-size="11.2" style="stroke-width:0.4px">5000</text>
<text x="80.1" y="630.1" font-size="11.2" style="stroke-width:0.4px">0</text>
<line x1="103.8" y1="625.9" x2="103.8" y2="629.5" stroke="#000" stroke-width="2.0" />
<text x="103.8" y="645.6" font-size="10.4" text-anchor="middle" >0</text>
<line x1="146.6" y1="625.9" x2="146.6" y2="629.5" stroke="#000" stroke-width="2.0" />
<text x="146.6" y="645.6" font-size="10.4" text-anchor="middle" >1</text>
<line x1="189.4" y1="625.9" x2="189.4" y2="629.5" stroke="#000" stroke-width="2.0" />
<text x="189.4" y="645.6" font-size="10.4" text-anchor="middle" >2</text>
<line x1="232.1" y1="625.9" x2="232.1" y2="629.5" stroke="#000" stroke-width="2.0" />
<text x="232.1" y="645.6" font-size="10.4" text-anchor="middle" >3</text>
<line x1="274.9" y1="625.9" x2="274.9" y2="629.5" stroke="#000" stroke-width="2.0" />
<text x="274.9" y="645.6" font-size="10.4" text-anchor="middle" >4</text>
<line x1="317.7" y1="625.9" x2="317.7" y2="629.5" stroke="#000" stroke-width="2.0" />
<text x="317.7" y="645.6" font-size="10.4" text-anchor="middle" >5</text>
<line x1="360.5" y1="625.9" x2="360.5" y2="629.5" stroke="#000" stroke-width="2.0" />
<text x="360.5" y="645.6" font-size="10.4" text-anchor="middle" >6</text>
<line x1="403.3" y1="625.9" x2="403.3" y2="629.5" stroke="#000" stroke-width="2.0" />
<text x="403.3" y="645.6" font-size="10.4" text-anchor="middle" >7</text>
<line x1="446.0" y1="625.9" x2="446.0" y2="629.5" stroke="#000" stroke-width="2.0" />
<text x="446.0" y="645.6" font-size="10.4" text-anchor="middle" >8</text>
<line x1="488.8" y1="625.9" x2="488.8" y2="629.5" stroke="#000" stroke-width="2.0" />
<text x="488.8" y="645.6" font-size="10.4" text-anchor="middle" >9</text>
<text x="272.6 288.0 292.5 302.8 312.9 319.8 330.6" y="667.5" font-size="11.6" style="stroke-width:0.35px">Minutes</text>
<text x="0.0" y="0.0" font-size="12.6" font-weight="normal" textLength="49.8" lengthAdjust="spacingAndGlyphs" transform="translate(20.4,525.9) rotate(-90)" text-anchor="middle" style="stroke-width:0.5px">Intensity</text>
<clipPath id="plotD"><rect x="105.6" y="427" width="410" height="198"/></clipPath>
<g clip-path="url(#plotD)">
<polyline points="105.6,618.4 106.6,618.4 107.6,618.4 108.6,618.4 109.6,618.4 110.6,618.4 111.6,618.4 112.6,618.4 113.6,618.4 114.6,618.4 115.6,618.4 116.6,618.4 117.6,618.4 118.6,618.4 119.6,618.4 120.6,618.4 121.6,618.4 122.6,618.4 123.6,618.4 124.6,618.3 125.6,617.8 126.6,616.4 127.6,615.9 128.6,617.3 129.6,618.2 130.6,618.4 131.6,618.4 132.6,618.4 133.6,618.4 134.6,618.4 135.6,618.4 136.6,618.4 137.6,618.4 138.6,618.4 139.6,618.4 140.6,618.4 141.6,618.4 142.6,618.4 143.6,618.4 144.6,618.4 145.6,618.4 146.6,618.4 147.6,618.4 148.6,618.4 149.6,618.4 150.6,618.4 151.6,618.4 152.6,618.4 153.6,618.4 154.6,618.4 155.6,618.4 156.6,618.4 157.6,618.4 158.6,618.4 159.6,618.4 160.6,618.4 161.6,618.4 162.6,618.4 163.6,618.4 164.6,618.4 165.6,618.4 166.6,618.4 167.6,618.4 168.6,618.4 169.6,618.4 170.6,618.4 171.6,618.4 172.6,618.4 173.6,618.4 174.6,618.4 175.6,618.4 176.6,618.4 177.6,618.4 178.6,618.4 179.6,618.4 180.6,618.4 181.6,618.4 182.6,618.4 183.6,618.4 184.6,618.4 185.6,618.4 186.6,618.4 187.6,618.4 188.6,618.4 189.6,618.4 190.6,618.4 191.6,618.4 192.6,618.4 193.6,618.4 194.6,618.3 195.6,618.1 196.6,617.9 197.6,617.9 198.6,618.1 199.6,618.3 200.6,618.4 201.6,618.4 202.6,618.4 203.6,618.4 204.6,618.4 205.6,618.4 206.6,618.4 207.6,618.4 208.6,618.4 209.6,618.4 210.6,618.4 211.6,618.4 212.6,618.4 213.6,618.4 214.6,618.4 215.6,618.4 216.6,618.4 217.6,618.4 218.6,618.4 219.6,618.4 220.6,618.4 221.6,618.4 222.6,618.4 223.6,618.4 224.6,618.4 225.6,618.4 226.6,618.4 227.6,618.4 228.6,618.4 229.6,618.4 230.6,618.4 231.6,618.4 232.6,618.4 233.6,618.4 234.6,618.4 235.6,618.4 236.6,618.4 237.6,618.4 238.6,618.4 239.6,618.4 240.6,618.4 241.6,618.4 242.6,618.4 243.6,618.4 244.6,618.4 245.6,618.4 246.6,618.4 247.6,618.4 248.6,618.4 249.6,618.4 250.6,618.4 251.6,618.4 252.6,618.4 253.6,618.4 254.6,618.4 255.6,618.4 256.6,618.4 257.6,618.4 258.6,618.4 259.6,618.4 260.6,618.4 261.6,618.4 262.6,618.4 263.6,618.4 264.6,618.0 265.6,617.1 266.6,616.9 267.6,617.7 268.6,618.3 269.6,618.4 270.6,618.4 271.6,618.4 272.6,618.4 273.6,618.4 274.6,618.4 275.6,618.4 276.6,618.4 277.6,618.4 278.6,618.4 279.6,618.4 280.6,618.4 281.6,618.4 282.6,618.4 283.6,618.4 284.6,618.4 285.6,618.4 286.6,618.4 287.6,618.4 288.6,618.4 289.6,618.4 290.6,618.4 291.6,618.4 292.6,618.4 293.6,618.4 294.6,618.4 295.6,618.4 296.6,618.4 297.6,618.4 298.6,618.4 299.6,618.4 300.6,618.4 301.6,618.4 302.6,618.4 303.6,618.4 304.6,618.4 305.6,618.4 306.6,618.4 307.6,618.4 308.6,618.4 309.6,618.4 310.6,618.4 311.6,618.4 312.6,618.4 313.6,618.4 314.6,618.4 315.6,618.4 316.6,618.4 317.6,618.4 318.6,618.4 319.6,618.4 320.6,618.4 321.6,618.4 322.6,618.4 323.6,618.4 324.6,618.4 325.6,618.4 326.6,618.4 327.6,618.4 328.6,618.4 329.6,618.4 330.6,618.4 331.6,618.4 332.6,618.4 333.6,618.4 334.6,618.4 335.6,618.4 336.6,618.4 337.6,618.4 338.6,618.4 339.6,618.4 340.6,618.4 341.6,618.4 342.6,618.4 343.6,618.4 344.6,618.4 345.6,618.4 346.6,618.4 347.6,618.4 348.6,618.4 349.6,618.4 350.6,618.4 351.6,618.4 352.6,618.4 353.6,618.4 354.6,618.4 355.6,618.4 356.6,618.4 357.6,618.4 358.6,618.4 359.6,618.4 360.6,618.4 361.6,618.4 362.6,618.4 363.6,618.4 364.6,618.4 365.6,618.4 366.6,618.4 367.6,618.4 368.6,618.4 369.6,618.4 370.6,618.4 371.6,618.4 372.6,618.4 373.6,618.4 374.6,618.4 375.6,618.4 376.6,618.4 377.6,618.4 378.6,618.4 379.6,618.4 380.6,618.4 381.6,618.4 382.6,618.4 383.6,618.4 384.6,618.4 385.6,618.4 386.6,618.4 387.6,618.4 388.6,618.4 389.6,618.4 390.6,618.3 391.6,618.1 392.6,618.0 393.6,618.0 394.6,618.2 395.6,618.3 396.6,618.4 397.6,618.4 398.6,618.4 399.6,618.4 400.6,618.4 401.6,618.4 402.6,618.4 403.6,618.4 404.6,618.4 405.6,618.3 406.6,618.1 407.6,617.9 408.6,618.0 409.6,618.2 410.6,618.3 411.6,618.4 412.6,618.4 413.6,618.4 414.6,618.3 415.6,618.1 416.6,618.0 417.6,618.0 418.6,618.2 419.6,618.3 420.6,618.4 421.6,618.4 422.6,618.4 423.6,618.4 424.6,618.4 425.6,618.4 426.6,618.4 427.6,618.4 428.6,618.4 429.6,618.4 430.6,618.4 431.6,618.4 432.6,618.4 433.6,618.4 434.6,618.4 435.6,618.4 436.6,618.4 437.6,618.4 438.6,618.4 439.6,618.4 440.6,618.4 441.6,618.4 442.6,618.3 443.6,618.1 444.6,618.0 445.6,618.0 446.6,618.2 447.6,618.3 448.6,618.4 449.6,618.4 450.6,618.4 451.6,618.4 452.6,618.4 453.6,618.4 454.6,618.4 455.6,618.4 456.6,618.4 457.6,618.4 458.6,618.4 459.6,618.4 460.6,618.4 461.6,618.4 462.6,618.4 463.6,618.4 464.6,618.4 465.6,618.4 466.6,618.4 467.6,618.4 468.6,618.4 469.6,618.4 470.6,618.4 471.6,618.4 472.6,618.4 473.6,618.4 474.6,618.4 475.6,618.4 476.6,618.4 477.6,618.4 478.6,618.4 479.6,618.4 480.6,618.4 481.6,618.4 482.6,618.4 483.6,618.4 484.6,618.4 485.6,618.4 486.6,618.4 487.6,618.4 488.6,618.4 489.6,618.4 490.6,618.4 491.6,618.4 492.6,618.4 493.6,618.4 494.6,618.4 495.6,618.4 496.6,618.4 497.6,618.4 498.6,618.4 499.6,618.4 500.6,618.4 501.6,618.4 502.6,618.4 503.6,618.4 504.6,618.4 505.6,618.4 506.6,618.4 507.6,618.4 508.6,618.4" fill="none" stroke="#a07888" stroke-width="1.1" stroke-linejoin="round"/>
<polyline points="200.0,618.0 200.2,618.0 200.4,618.0 200.6,618.0 200.8,618.0 201.0,618.0 201.2,618.0 201.4,618.0 201.6,617.9 201.8,617.9 202.0,617.9 202.2,617.9 202.4,617.9 202.6,617.9 202.8,617.8 203.0,617.8 203.2,617.8 203.4,617.8 203.6,617.7 203.8,617.7 204.0,617.6 204.2,617.6 204.4,617.5 204.6,617.4 204.8,617.3 205.0,617.2 205.2,617.1 205.4,616.9 205.6,616.7 205.8,616.6 206.0,616.3 206.2,616.1 206.4,615.8 206.6,615.4 206.8,615.1 207.0,614.6 207.2,614.1 207.4,613.6 207.6,612.9 207.8,612.2 208.0,611.4 208.2,610.4 208.4,609.4 208.6,608.2 208.8,606.8 209.0,605.3 209.2,603.7 209.4,601.8 209.6,599.6 209.8,597.3 210.0,594.7 210.2,591.7 210.4,588.5 210.6,584.9 210.8,581.0 211.0,576.6 211.2,571.8 211.4,566.6 211.6,560.9 211.8,554.7 212.0,547.9 212.2,540.6 212.4,532.8 212.6,524.4 212.8,515.5 213.0,506.1 213.2,496.2 213.4,485.9 213.6,475.3 213.8,464.5 214.0,453.8 214.2,443.5 214.4,434.2 214.6,427.6 214.8,433.9 215.0,442.8 215.2,452.6 215.4,462.9 215.6,473.3 215.8,483.6 216.0,493.6 216.2,503.2 216.4,512.4 216.6,521.2 216.8,529.5 217.0,537.2 217.2,544.5 217.4,551.2 217.6,557.5 217.8,563.3 218.0,568.6 218.2,573.5 218.4,577.9 218.6,582.0 218.8,585.7 219.0,589.1 219.2,592.2 219.4,595.0 219.6,597.5 219.8,599.7 220.0,601.8 220.2,603.6 220.4,605.2 220.6,606.7 220.8,608.0 221.0,609.2 221.2,610.2 221.4,611.1 221.6,612.0 221.8,612.7 222.0,613.3 222.2,613.9 222.4,614.4 222.6,614.9 222.8,615.3 223.0,615.6 223.2,615.9 223.4,616.2 223.6,616.4 223.8,616.6 224.0,616.8 224.2,617.0 224.4,617.1 224.6,617.2 224.8,617.3 225.0,617.4 225.2,617.5 225.4,617.6 225.6,617.6 225.8,617.7 226.0,617.7 226.2,617.8 226.4,617.8 226.6,617.8 226.8,617.8 227.0,617.9 227.2,617.9 227.4,617.9 227.6,617.9 227.8,617.9 228.0,617.9 228.2,617.9 228.4,618.0 228.6,618.0 228.8,618.0 229.0,618.0 229.2,618.0 229.4,618.0 229.6,618.0 229.8,618.0 230.0,618.0 230.2,618.0 230.4,618.0 230.6,618.0 230.8,618.0 231.0,618.0 231.2,618.0 231.4,618.0 231.6,618.0 231.8,618.0 232.0,618.0" fill="none" stroke="#8a8a8a" stroke-width="1.4" stroke-linejoin="round"/>
<polyline points="230.0,618.0 230.2,618.0 230.4,618.0 230.6,618.0 230.8,618.0 231.0,618.0 231.2,618.0 231.4,618.0 231.6,617.9 231.8,617.9 232.0,617.9 232.2,617.9 232.4,617.8 232.6,617.8 232.8,617.7 233.0,617.7 233.2,617.6 233.4,617.4 233.6,617.3 233.8,617.1 234.0,616.8 234.2,616.5 234.4,616.1 234.6,615.6 234.8,614.9 235.0,614.1 235.2,613.1 235.4,611.8 235.6,610.3 235.8,608.4 236.0,606.0 236.2,603.1 236.4,599.6 236.6,595.3 236.8,590.1 237.0,583.9 237.2,576.4 237.4,567.5 237.6,557.0 237.8,544.5 238.0,529.9 238.2,512.9 238.4,493.3 238.6,470.8 238.8,445.4 239.0,427.6 239.2,427.6 239.4,427.6 239.6,427.6 239.8,427.6 240.0,427.6 240.2,427.6 240.4,427.6 240.6,427.6 240.8,427.6 241.0,427.6 241.2,427.6 241.4,427.6 241.6,427.6 241.8,427.6 242.0,432.9 242.2,452.7 242.4,470.8 242.6,487.5 242.8,502.5 243.0,516.2 243.2,528.4 243.4,539.4 243.6,549.3 243.8,558.0 244.0,565.7 244.2,572.6 244.4,578.6 244.6,583.9 244.8,588.5 245.0,592.6 245.2,596.2 245.4,599.2 245.6,601.9 245.8,604.2 246.0,606.2 246.2,608.0 246.4,609.5 246.6,610.7 246.8,611.8 247.0,612.8 247.2,613.6 247.4,614.3 247.6,614.8 247.8,615.3 248.0,615.8 248.2,616.1 248.4,616.4 248.6,616.7 248.8,616.9 249.0,617.1 249.2,617.2 249.4,617.4 249.6,617.5 249.8,617.5 250.0,617.6 250.2,617.7 250.4,617.7 250.6,617.8 250.8,617.8 251.0,617.9 251.2,617.9 251.4,617.9 251.6,617.9 251.8,617.9 252.0,617.9 252.2,618.0 252.4,618.0 252.6,618.0 252.8,618.0 253.0,618.0 253.2,618.0 253.4,618.0 253.6,618.0 253.8,618.0 254.0,618.0 254.2,618.0 254.4,618.0 254.6,618.0 254.8,618.0 255.0,618.0 255.2,618.0 255.4,618.0 255.6,618.0 255.8,618.0 256.0,618.0 256.2,618.0 256.4,618.0 256.6,618.0 256.8,618.0 257.0,618.0 257.2,618.0 257.4,618.0 257.6,618.0 257.8,618.0 258.0,618.0" fill="none" stroke="#d9a276" stroke-width="1.1" stroke-linejoin="round"/>
<polyline points="230.0,618.0 230.2,618.0 230.4,618.0 230.6,618.0 230.8,618.0 231.0,618.0 231.2,618.0 231.4,618.0 231.6,618.0 231.8,617.9 232.0,617.9 232.2,617.9 232.4,617.9 232.6,617.9 232.8,617.8 233.0,617.8 233.2,617.7 233.4,617.7 233.6,617.6 233.8,617.5 234.0,617.4 234.2,617.3 234.4,617.2 234.6,617.0 234.8,616.7 235.0,616.5 235.2,616.2 235.4,615.8 235.6,615.3 235.8,614.8 236.0,614.1 236.2,613.4 236.4,612.5 236.6,611.4 236.8,610.1 237.0,608.6 237.2,606.8 237.4,604.8 237.6,602.3 237.8,599.5 238.0,596.2 238.2,592.4 238.4,588.0 238.6,583.0 238.8,577.1 239.0,570.5 239.2,562.9 239.4,554.2 239.6,544.5 239.8,533.5 240.0,521.3 240.2,507.6 240.4,492.6 240.6,476.0 240.8,458.1 241.0,438.7 241.2,427.6 241.4,427.6 241.6,427.6 241.8,427.6 242.0,427.6 242.2,427.6 242.4,427.6 242.6,427.6 242.8,427.6 243.0,427.6 243.2,427.6 243.4,427.6 243.6,427.6 243.8,427.6 244.0,427.6 244.2,436.3 244.4,448.0 244.6,459.2 244.8,469.9 245.0,480.1 245.2,489.8 245.4,498.9 245.6,507.6 245.8,515.8 246.0,523.5 246.2,530.8 246.4,537.5 246.6,543.9 246.8,549.8 247.0,555.3 247.2,560.4 247.4,565.2 247.6,569.6 247.8,573.7 248.0,577.5 248.2,581.0 248.4,584.2 248.6,587.2 248.8,589.9 249.0,592.4 249.2,594.7 249.4,596.9 249.6,598.8 249.8,600.6 250.0,602.2 250.2,603.7 250.4,605.0 250.6,606.3 250.8,607.4 251.0,608.4 251.2,609.3 251.4,610.2 251.6,611.0 251.8,611.6 252.0,612.3 252.2,612.9 252.4,613.4 252.6,613.8 252.8,614.3 253.0,614.6 253.2,615.0 253.4,615.3 253.6,615.6 253.8,615.8 254.0,616.1 254.2,616.3 254.4,616.4 254.6,616.6 254.8,616.8 255.0,616.9 255.2,617.0 255.4,617.1 255.6,617.2 255.8,617.3 256.0,617.4 256.2,617.4 256.4,617.5 256.6,617.6 256.8,617.6 257.0,617.7 257.2,617.7 257.4,617.7 257.6,617.8 257.8,617.8 258.0,617.8 258.2,617.8 258.4,617.9 258.6,617.9 258.8,617.9 259.0,617.9 259.2,617.9 259.4,617.9 259.6,617.9 259.8,617.9 260.0,617.9 260.2,618.0 260.4,618.0 260.6,618.0 260.8,618.0 261.0,618.0 261.2,618.0 261.4,618.0 261.6,618.0 261.8,618.0 262.0,618.0 262.2,618.0 262.4,618.0 262.6,618.0 262.8,618.0 263.0,618.0 263.2,618.0 263.4,618.0 263.6,618.0 263.8,618.0 264.0,618.0 264.2,618.0 264.4,618.0 264.6,618.0 264.8,618.0 265.0,618.0 265.2,618.0 265.4,618.0 265.6,618.0 265.8,618.0 266.0,618.0" fill="none" stroke="#d46c7c" stroke-width="1.5" stroke-linejoin="round"/>
<polyline points="236.0,618.4 236.2,618.4 236.4,618.4 236.6,618.4 236.8,618.4 237.0,618.4 237.2,618.4 237.4,618.4 237.6,618.4 237.8,618.4 238.0,618.4 238.2,618.4 238.4,618.3 238.6,618.3 238.8,618.3 239.0,618.3 239.2,618.3 239.4,618.2 239.6,618.2 239.8,618.1 240.0,618.1 240.2,618.0 240.4,617.9 240.6,617.8 240.8,617.6 241.0,617.4 241.2,617.2 241.4,616.9 241.6,616.6 241.8,616.1 242.0,615.6 242.2,615.0 242.4,614.2 242.6,613.3 242.8,612.2 243.0,610.8 243.2,609.2 243.4,607.2 243.6,604.9 243.8,602.2 244.0,598.9 244.2,595.0 244.4,590.5 244.6,585.1 244.8,578.9 245.0,571.6 245.2,563.3 245.4,553.6 245.6,542.6 245.8,530.0 246.0,515.8 246.2,499.8 246.4,482.1 246.6,462.6 246.8,441.3 247.0,427.6 247.2,427.6 247.4,427.6 247.6,427.6 247.8,427.6 248.0,427.6 248.2,427.6 248.4,427.6 248.6,427.6 248.8,427.6 249.0,427.6 249.2,427.6 249.4,427.6 249.6,440.5 249.8,454.4 250.0,467.6 250.2,480.1 250.4,491.8 250.6,502.8 250.8,513.1 251.0,522.6 251.2,531.4 251.4,539.6 251.6,547.1 251.8,554.0 252.0,560.3 252.2,566.1 252.4,571.4 252.6,576.2 252.8,580.5 253.0,584.5 253.2,588.1 253.4,591.3 253.6,594.3 253.8,596.9 254.0,599.3 254.2,601.4 254.4,603.3 254.6,605.0 254.8,606.5 255.0,607.9 255.2,609.1 255.4,610.2 255.6,611.2 255.8,612.0 256.0,612.8 256.2,613.5 256.4,614.1 256.6,614.6 256.8,615.1 257.0,615.5 257.2,615.8 257.4,616.2 257.6,616.4 257.8,616.7 258.0,616.9 258.2,617.1 258.4,617.3 258.6,617.4 258.8,617.5 259.0,617.7 259.2,617.7 259.4,617.8 259.6,617.9 259.8,618.0 260.0,618.0 260.2,618.1 260.4,618.1 260.6,618.2 260.8,618.2 261.0,618.2 261.2,618.2 261.4,618.3 261.6,618.3 261.8,618.3 262.0,618.3 262.2,618.3 262.4,618.3 262.6,618.3 262.8,618.4 263.0,618.4 263.2,618.4 263.4,618.4 263.6,618.4 263.8,618.4 264.0,618.4 264.2,618.4 264.4,618.4 264.6,618.4 264.8,618.4 265.0,618.4 265.2,618.4 265.4,618.4 265.6,618.4 265.8,618.4 266.0,618.4" fill="none" stroke="#6d66cc" stroke-width="1.5" stroke-linejoin="round"/>
</g>
<line x1="178.5" y1="481.5" x2="208.0" y2="504.2" stroke="#000" stroke-width="1.5" />
<line x1="282.5" y1="492.0" x2="247.8" y2="520.5" stroke="#000" stroke-width="1.5" />
<line x1="272.7" y1="559.6" x2="237.7" y2="587.9" stroke="#000" stroke-width="1.5" />
<text x="115.7" y="460.0" font-size="11.4" textLength="55.0" lengthAdjust="spacingAndGlyphs" >4-OH-CPA</text>
<text x="116.2" y="479.7" font-size="11.4" textLength="58.8" lengthAdjust="spacingAndGlyphs" >RT: 2.5 min</text>
<text x="265.0" y="465.4" font-size="11.4" textLength="23.8" lengthAdjust="spacingAndGlyphs" >CPA</text>
<text x="265.0" y="486.2" font-size="11.4" textLength="56.8" lengthAdjust="spacingAndGlyphs" >RT: 3.3min</text>
<text x="276.5" y="538.8" font-size="11.4" textLength="15.4" lengthAdjust="spacingAndGlyphs" >I.S.</text>
<text x="277.2" y="559.0" font-size="11.4" textLength="53.9" lengthAdjust="spacingAndGlyphs" >RT:3.1min</text>
<text x="369.2" y="465.6" font-size="10.6" textLength="26.5" lengthAdjust="spacingAndGlyphs" >CPA:</text>
<text x="339.8" y="480.0" font-size="10.6" textLength="60.6" lengthAdjust="spacingAndGlyphs" >4-OH-CPA:</text>
<text x="378.8" y="493.3" font-size="10.6" textLength="20.8" lengthAdjust="spacingAndGlyphs" >I.S.:</text>
<text x="402.9" y="465.6" font-size="10.6" textLength="40.9" lengthAdjust="spacingAndGlyphs" >m/z 261</text>
<text x="402.9" y="480.0" font-size="10.6" textLength="40.4" lengthAdjust="spacingAndGlyphs" >m/z 334</text>
<text x="403.5" y="493.3" font-size="10.6" textLength="41.1" lengthAdjust="spacingAndGlyphs" >m/z 180</text>
<text x="468.3" y="465.6" font-size="10.6" textLength="17.3" lengthAdjust="spacingAndGlyphs" >140</text>
<text x="470.2" y="480.0" font-size="10.6" textLength="17.3" lengthAdjust="spacingAndGlyphs" >221</text>
<text x="467.3" y="493.3" font-size="10.6" textLength="18.3" lengthAdjust="spacingAndGlyphs" >135</text>
<line x1="445.8" y1="462.3" x2="463.5" y2="462.3" stroke="#000" stroke-width="1.3" /><polyline points="458.5,458.7 463.5,462.3 458.5,465.9" fill="none" stroke="#000" stroke-width="1.3" stroke-linejoin="round"/>
<line x1="447.7" y1="475.8" x2="464.4" y2="475.8" stroke="#000" stroke-width="1.3" /><polyline points="459.4,472.2 464.4,475.8 459.4,479.4" fill="none" stroke="#000" stroke-width="1.3" stroke-linejoin="round"/>
<line x1="449.0" y1="489.2" x2="466.3" y2="489.2" stroke="#000" stroke-width="1.3" /><polyline points="461.3,485.6 466.3,489.2 461.3,492.8" fill="none" stroke="#000" stroke-width="1.3" stroke-linejoin="round"/>
<text x="2.0" y="717.7" font-size="16" >E</text>
<line x1="45.8" y1="735.7" x2="45.8" y2="881.9" stroke="#000" stroke-width="2.0" />
<line x1="44.8" y1="880.9" x2="245.0" y2="880.9" stroke="#000" stroke-width="2.0" />
<line x1="42.6" y1="736.3" x2="45.8" y2="736.3" stroke="#000" stroke-width="1.6" />
<text x="37.3" y="740.4" font-size="10.4" text-anchor="end" >30</text>
<line x1="42.6" y1="757.4" x2="45.8" y2="757.4" stroke="#000" stroke-width="1.6" />
<text x="37.3" y="761.5" font-size="10.4" text-anchor="end" >25</text>
<line x1="42.6" y1="778.4" x2="45.8" y2="778.4" stroke="#000" stroke-width="1.6" />
<text x="37.3" y="782.5" font-size="10.4" text-anchor="end" >20</text>
<line x1="42.6" y1="799.5" x2="45.8" y2="799.5" stroke="#000" stroke-width="1.6" />
<text x="37.3" y="803.6" font-size="10.4" text-anchor="end" >15</text>
<line x1="42.6" y1="820.6" x2="45.8" y2="820.6" stroke="#000" stroke-width="1.6" />
<text x="37.3" y="824.7" font-size="10.4" text-anchor="end" >10</text>
<line x1="42.6" y1="841.6" x2="45.8" y2="841.6" stroke="#000" stroke-width="1.6" />
<text x="37.3" y="845.7" font-size="10.4" text-anchor="end" >5</text>
<line x1="42.6" y1="862.7" x2="45.8" y2="862.7" stroke="#000" stroke-width="1.6" />
<text x="37.3" y="866.8" font-size="10.4" text-anchor="end" >0</text>
<line x1="84.6" y1="880.9" x2="84.6" y2="883.9" stroke="#000" stroke-width="1.6" />
<text x="84.6" y="899.2" font-size="10.0" text-anchor="middle" >0</text>
<line x1="124.6" y1="880.9" x2="124.6" y2="883.9" stroke="#000" stroke-width="1.6" />
<text x="124.6" y="899.2" font-size="10.0" text-anchor="middle" >250</text>
<line x1="164.9" y1="880.9" x2="164.9" y2="883.9" stroke="#000" stroke-width="1.6" />
<text x="164.9" y="899.2" font-size="10.0" text-anchor="middle" >500</text>
<line x1="204.2" y1="880.9" x2="204.2" y2="883.9" stroke="#000" stroke-width="1.6" />
<text x="204.2" y="899.2" font-size="10.0" text-anchor="middle" >1000</text>
<text x="222.0" y="897.6" font-size="11" textLength="51" lengthAdjust="spacingAndGlyphs" >(µM CPA)</text>
<text x="95.0" y="723.8" font-size="9.8" textLength="83.8" lengthAdjust="spacingAndGlyphs" >HL#37 dose curve</text>
<text x="0.0" y="0.0" font-size="12" textLength="112.2" lengthAdjust="spacingAndGlyphs" transform="translate(14.4,792.3) rotate(-90)" text-anchor="middle">4-OHCP Conc.&#160;&#160;(µM)</text>
<polyline points="84.6,862.7 124.6,862.8 164.9,863.0 204.2,863.0" fill="none" stroke="#000" stroke-width="1.6" stroke-linejoin="round"/>
<polyline points="84.6,862.7 124.8,849.5 164.7,826.9 204.8,800.4" fill="none" stroke="#000" stroke-width="1.6" stroke-linejoin="round"/>
<polyline points="84.6,862.7 124.8,831.5 164.7,805.0 204.8,752.6" fill="none" stroke="#000" stroke-width="1.6" stroke-linejoin="round"/>
<line x1="204.8" y1="746.4" x2="204.8" y2="758.2" stroke="#000" stroke-width="1.4" /><line x1="201.3" y1="746.4" x2="208.3" y2="746.4" stroke="#000" stroke-width="1.4" /><line x1="201.3" y1="758.2" x2="208.3" y2="758.2" stroke="#000" stroke-width="1.4" />
<polygon points="120.1,860.2 129.1,860.2 124.6,867.4" fill="#000"/>
<polygon points="160.4,860.4 169.4,860.4 164.9,867.6" fill="#000"/>
<polygon points="199.7,860.4 208.7,860.4 204.2,867.6" fill="#000"/>
<circle cx="124.8" cy="849.5" r="3.8" fill="#000"/>
<circle cx="164.7" cy="826.9" r="3.8" fill="#000"/>
<circle cx="204.8" cy="800.4" r="3.8" fill="#000"/>
<circle cx="124.8" cy="831.5" r="3.6" fill="#fff" stroke="#000" stroke-width="1.1"/>
<circle cx="164.7" cy="805.0" r="3.6" fill="#fff" stroke="#000" stroke-width="1.1"/>
<circle cx="204.8" cy="752.6" r="3.6" fill="#fff" stroke="#000" stroke-width="1.1"/>
<circle cx="84.6" cy="862.9" r="3.6" fill="#777" stroke="#333" stroke-width="1"/>
<polygon points="81.3,860.6 87.8,860.6 84.6,866.1" fill="#000"/>
<path d="M122.00,824.30L122.00,822.30M122.00,824.30L123.90,823.68M122.00,824.30L123.18,825.92M122.00,824.30L120.82,825.92M122.00,824.30L120.10,823.68" stroke="#000" stroke-width="1.35" stroke-linecap="round" fill="none"/><path d="M127.60,824.30L127.60,822.30M127.60,824.30L129.50,823.68M127.60,824.30L128.78,825.92M127.60,824.30L126.42,825.92M127.60,824.30L125.70,823.68" stroke="#000" stroke-width="1.35" stroke-linecap="round" fill="none"/>
<path d="M161.90,795.40L161.90,793.40M161.90,795.40L163.80,794.78M161.90,795.40L163.08,797.02M161.90,795.40L160.72,797.02M161.90,795.40L160.00,794.78" stroke="#000" stroke-width="1.35" stroke-linecap="round" fill="none"/><path d="M167.50,795.40L167.50,793.40M167.50,795.40L169.40,794.78M167.50,795.40L168.68,797.02M167.50,795.40L166.32,797.02M167.50,795.40L165.60,794.78" stroke="#000" stroke-width="1.35" stroke-linecap="round" fill="none"/>
<path d="M202.00,741.60L202.00,739.60M202.00,741.60L203.90,740.98M202.00,741.60L203.18,743.22M202.00,741.60L200.82,743.22M202.00,741.60L200.10,740.98" stroke="#000" stroke-width="1.35" stroke-linecap="round" fill="none"/><path d="M207.60,741.60L207.60,739.60M207.60,741.60L209.50,740.98M207.60,741.60L208.78,743.22M207.60,741.60L206.42,743.22M207.60,741.60L205.70,740.98" stroke="#000" stroke-width="1.35" stroke-linecap="round" fill="none"/>
<line x1="61.3" y1="755.4" x2="83.0" y2="755.4" stroke="#000" stroke-width="1.6" />
<circle cx="72.0" cy="755.4" r="3.6" fill="#000"/>
<text x="88.3" y="758.6" font-size="10.4" textLength="20.6" lengthAdjust="spacingAndGlyphs" >HPH</text>
<line x1="61.3" y1="768.4" x2="83.0" y2="768.4" stroke="#000" stroke-width="1.6" />
<circle cx="72.0" cy="768.4" r="3.4" fill="#fff" stroke="#000" stroke-width="1.1"/>
<text x="88.3" y="771.6" font-size="10.4" textLength="55.0" lengthAdjust="spacingAndGlyphs" >HPH+CITCO</text>
<line x1="61.3" y1="781.6" x2="83.0" y2="781.6" stroke="#000" stroke-width="1.6" />
<polygon points="67.5,778.8 76.5,778.8 72.0,786.0" fill="#000"/>
<text x="88.3" y="784.8" font-size="10.4" textLength="35.4" lengthAdjust="spacingAndGlyphs" >No HPH</text>
<text x="279.6" y="717.9" font-size="16" >F</text>
<line x1="319.7" y1="739.8" x2="319.7" y2="884.1" stroke="#000" stroke-width="2.0" />
<line x1="318.7" y1="883.1" x2="515.8" y2="883.1" stroke="#000" stroke-width="2.0" />
<line x1="316.5" y1="740.4" x2="319.7" y2="740.4" stroke="#000" stroke-width="1.6" />
<text x="311.4" y="744.1" font-size="10.0" text-anchor="end" >20</text>
<line x1="316.5" y1="769.5" x2="319.7" y2="769.5" stroke="#000" stroke-width="1.6" />
<text x="311.4" y="773.2" font-size="10.0" text-anchor="end" >15</text>
<line x1="316.5" y1="798.6" x2="319.7" y2="798.6" stroke="#000" stroke-width="1.6" />
<text x="311.4" y="802.3" font-size="10.0" text-anchor="end" >10</text>
<line x1="316.5" y1="827.7" x2="319.7" y2="827.7" stroke="#000" stroke-width="1.6" />
<text x="311.4" y="831.4" font-size="10.0" text-anchor="end" >5</text>
<line x1="316.5" y1="856.8" x2="319.7" y2="856.8" stroke="#000" stroke-width="1.6" />
<text x="311.4" y="860.5" font-size="10.0" text-anchor="end" >0</text>
<line x1="347.3" y1="883.1" x2="347.3" y2="886.1" stroke="#000" stroke-width="1.6" />
<text x="347.3" y="901.2" font-size="10.0" text-anchor="middle" >0h</text>
<line x1="375.2" y1="883.1" x2="375.2" y2="886.1" stroke="#000" stroke-width="1.6" />
<text x="375.2" y="901.2" font-size="10.0" text-anchor="middle" >2h</text>
<line x1="403.1" y1="883.1" x2="403.1" y2="886.1" stroke="#000" stroke-width="1.6" />
<text x="403.1" y="901.2" font-size="10.0" text-anchor="middle" >4h</text>
<line x1="431.2" y1="883.1" x2="431.2" y2="886.1" stroke="#000" stroke-width="1.6" />
<text x="431.2" y="901.2" font-size="10.0" text-anchor="middle" >8h</text>
<line x1="459.1" y1="883.1" x2="459.1" y2="886.1" stroke="#000" stroke-width="1.6" />
<text x="459.1" y="901.2" font-size="10.0" text-anchor="middle" >12h</text>
<line x1="487.4" y1="883.1" x2="487.4" y2="886.1" stroke="#000" stroke-width="1.6" />
<text x="487.4" y="901.2" font-size="10.0" text-anchor="middle" >24h</text>
<text x="348.8" y="725.4" font-size="9.6" textLength="102.5" lengthAdjust="spacingAndGlyphs" >HL#37 CPA time curve</text>
<text x="0.0" y="0.0" font-size="12" textLength="112.9" lengthAdjust="spacingAndGlyphs" transform="translate(290.0,800.9) rotate(-90)" text-anchor="middle">4-OHCP Conc. (µM)</text>
<polyline points="347.3,857.2 375.2,857.2 403.1,857.2 431.2,857.2 459.1,857.2 487.4,857.2" fill="none" stroke="#000" stroke-width="1.6" stroke-linejoin="round"/>
<polyline points="347.3,857.3 375.2,847.1 403.1,847.1 431.2,843.4 459.1,827.9 487.4,807.4" fill="none" stroke="#000" stroke-width="1.6" stroke-linejoin="round"/>
<polyline points="347.3,857.3 374.9,800.6 403.1,807.6 431.2,806.6 459.5,754.4 487.3,777.8" fill="none" stroke="#000" stroke-width="1.6" stroke-linejoin="round"/>
<line x1="459.1" y1="822.2" x2="459.1" y2="833.8" stroke="#000" stroke-width="1.4" /><line x1="455.9" y1="822.2" x2="462.4" y2="822.2" stroke="#000" stroke-width="1.4" /><line x1="455.9" y1="833.8" x2="462.4" y2="833.8" stroke="#000" stroke-width="1.4" />
<line x1="459.5" y1="748.4" x2="459.5" y2="757.0" stroke="#000" stroke-width="1.4" /><line x1="456.0" y1="748.4" x2="463.0" y2="748.4" stroke="#000" stroke-width="1.4" /><line x1="456.0" y1="757.0" x2="463.0" y2="757.0" stroke="#000" stroke-width="1.4" />
<line x1="487.3" y1="774.8" x2="487.3" y2="780.0" stroke="#000" stroke-width="1.1" /><line x1="485.3" y1="774.8" x2="489.3" y2="774.8" stroke="#000" stroke-width="1.1" /><line x1="485.3" y1="780.0" x2="489.3" y2="780.0" stroke="#000" stroke-width="1.1" />
<circle cx="375.2" cy="857.2" r="3.8" fill="#000"/>
<circle cx="403.1" cy="857.2" r="3.8" fill="#000"/>
<circle cx="431.2" cy="857.2" r="3.8" fill="#000"/>
<circle cx="459.1" cy="857.2" r="3.8" fill="#000"/>
<circle cx="487.4" cy="857.2" r="3.8" fill="#000"/>
<circle cx="375.2" cy="847.1" r="3.6" fill="#fff" stroke="#000" stroke-width="1.1"/>
<circle cx="403.1" cy="847.1" r="3.6" fill="#fff" stroke="#000" stroke-width="1.1"/>
<circle cx="431.2" cy="843.4" r="3.6" fill="#fff" stroke="#000" stroke-width="1.1"/>
<circle cx="459.1" cy="827.9" r="3.6" fill="#fff" stroke="#000" stroke-width="1.1"/>
<circle cx="487.4" cy="807.4" r="3.6" fill="#fff" stroke="#000" stroke-width="1.1"/>
<polygon points="370.6,797.6 379.2,797.6 374.9,804.4" fill="#000"/>
<polygon points="398.8,804.6 407.4,804.6 403.1,811.4" fill="#000"/>
<polygon points="426.9,803.6 435.5,803.6 431.2,810.4" fill="#000"/>
<polygon points="455.2,751.4 463.8,751.4 459.5,758.2" fill="#000"/>
<polygon points="483.0,774.8 491.6,774.8 487.3,781.6" fill="#000"/>
<circle cx="347.3" cy="857.2" r="3.6" fill="#777" stroke="#333" stroke-width="1"/>
<polygon points="344.1,855.0 350.6,855.0 347.3,860.5" fill="#000"/>
<path d="M372.00,791.60L372.00,789.60M372.00,791.60L373.90,790.98M372.00,791.60L373.18,793.22M372.00,791.60L370.82,793.22M372.00,791.60L370.10,790.98" stroke="#000" stroke-width="1.35" stroke-linecap="round" fill="none"/><path d="M377.80,791.60L377.80,789.60M377.80,791.60L379.70,790.98M377.80,791.60L378.98,793.22M377.80,791.60L376.62,793.22M377.80,791.60L375.90,790.98" stroke="#000" stroke-width="1.35" stroke-linecap="round" fill="none"/>
<path d="M400.20,798.00L400.20,796.00M400.20,798.00L402.10,797.38M400.20,798.00L401.38,799.62M400.20,798.00L399.02,799.62M400.20,798.00L398.30,797.38" stroke="#000" stroke-width="1.35" stroke-linecap="round" fill="none"/><path d="M406.00,798.00L406.00,796.00M406.00,798.00L407.90,797.38M406.00,798.00L407.18,799.62M406.00,798.00L404.82,799.62M406.00,798.00L404.10,797.38" stroke="#000" stroke-width="1.35" stroke-linecap="round" fill="none"/>
<path d="M428.30,796.10L428.30,794.10M428.30,796.10L430.20,795.48M428.30,796.10L429.48,797.72M428.30,796.10L427.12,797.72M428.30,796.10L426.40,795.48" stroke="#000" stroke-width="1.35" stroke-linecap="round" fill="none"/><path d="M434.10,796.10L434.10,794.10M434.10,796.10L436.00,795.48M434.10,796.10L435.28,797.72M434.10,796.10L432.92,797.72M434.10,796.10L432.20,795.48" stroke="#000" stroke-width="1.35" stroke-linecap="round" fill="none"/>
<path d="M456.60,742.60L456.60,740.60M456.60,742.60L458.50,741.98M456.60,742.60L457.78,744.22M456.60,742.60L455.42,744.22M456.60,742.60L454.70,741.98" stroke="#000" stroke-width="1.35" stroke-linecap="round" fill="none"/><path d="M462.40,742.60L462.40,740.60M462.40,742.60L464.30,741.98M462.40,742.60L463.58,744.22M462.40,742.60L461.22,744.22M462.40,742.60L460.50,741.98" stroke="#000" stroke-width="1.35" stroke-linecap="round" fill="none"/>
<path d="M484.40,767.20L484.40,765.20M484.40,767.20L486.30,766.58M484.40,767.20L485.58,768.82M484.40,767.20L483.22,768.82M484.40,767.20L482.50,766.58" stroke="#000" stroke-width="1.35" stroke-linecap="round" fill="none"/><path d="M490.20,767.20L490.20,765.20M490.20,767.20L492.10,766.58M490.20,767.20L491.38,768.82M490.20,767.20L489.02,768.82M490.20,767.20L488.30,766.58" stroke="#000" stroke-width="1.35" stroke-linecap="round" fill="none"/>
<line x1="334.6" y1="753.7" x2="356.8" y2="753.7" stroke="#000" stroke-width="1.6" />
<circle cx="345.5" cy="753.7" r="3.6" fill="#000"/>
<text x="361.5" y="757.0" font-size="10.0" textLength="12.8" lengthAdjust="spacingAndGlyphs" >CT</text>
<line x1="334.6" y1="766.8" x2="356.8" y2="766.8" stroke="#000" stroke-width="1.6" />
<circle cx="345.5" cy="766.8" r="3.4" fill="#fff" stroke="#000" stroke-width="1.1"/>
<text x="361.5" y="770.1" font-size="10.0" textLength="20.4" lengthAdjust="spacingAndGlyphs" >CPA</text>
<line x1="334.6" y1="779.8" x2="356.8" y2="779.8" stroke="#000" stroke-width="1.6" />
<polygon points="341.0,777.0 350.0,777.0 345.5,784.2" fill="#000"/>
<text x="361.5" y="783.1" font-size="10.0" textLength="54" lengthAdjust="spacingAndGlyphs" >CPA+CITCO</text>
</svg>
</body></html>
